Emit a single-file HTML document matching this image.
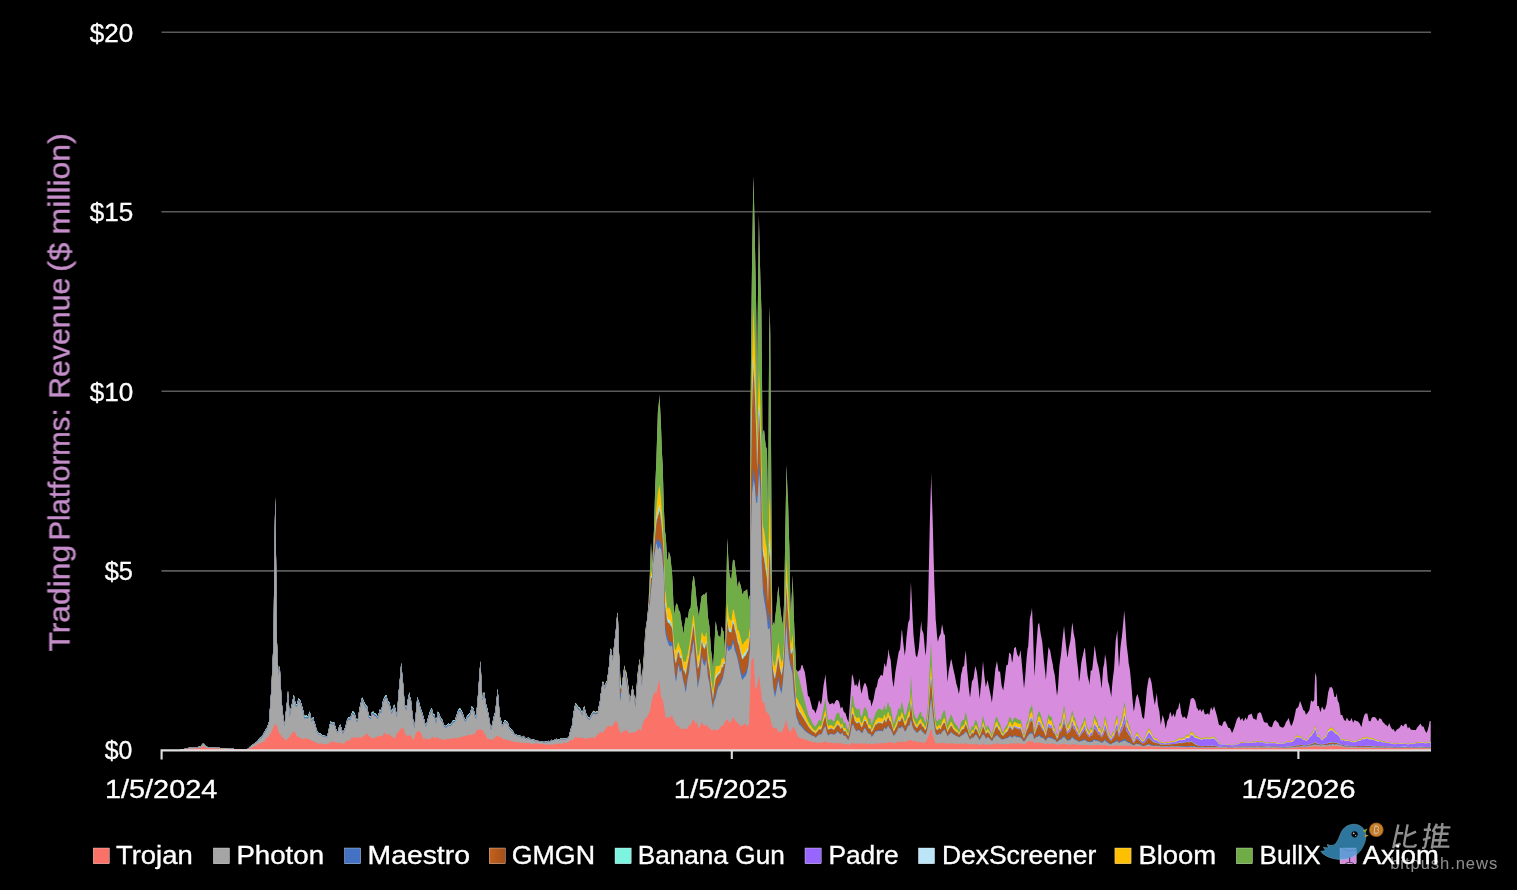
<!DOCTYPE html><html><head><meta charset="utf-8"><title>Trading Platforms Revenue</title><style>html,body{margin:0;padding:0;background:#000;}body{width:1517px;height:890px;overflow:hidden;font-family:"Liberation Sans",sans-serif;}svg{display:block;}</style></head><body><svg width="1517" height="890" viewBox="0 0 1517 890">
<defs><linearGradient id="gm" x1="0" x2="1" y1="0" y2="0"><stop offset="0" stop-color="#C4621F"/><stop offset="1" stop-color="#A6501B"/></linearGradient></defs>
<rect width="1517" height="890" fill="#000"/>
<line x1="161.5" x2="1431" y1="32.3" y2="32.3" stroke="#5a5a5a" stroke-width="1.6"/>
<line x1="161.5" x2="1431" y1="211.8" y2="211.8" stroke="#5a5a5a" stroke-width="1.6"/>
<line x1="161.5" x2="1431" y1="391.3" y2="391.3" stroke="#5a5a5a" stroke-width="1.6"/>
<line x1="161.5" x2="1431" y1="570.9" y2="570.9" stroke="#5a5a5a" stroke-width="1.6"/>
<g><path fill="#D88CDE" d="M161,750.4L161,750.4L180,750L187.6,748L190.7,747.6L192.2,747.7L193.8,747.4L196.9,747.2L198.5,746.8L200.5,746.6L201.6,745L203.4,742.9L204.8,744.8L206.3,746.6L207.9,747.1L215.7,747.4L217.2,747.7L218.8,747.5L220.4,747.9L226.6,747.9L228.2,748.2L232,748.2L234.4,749L236,749.3L243.8,749.3L247,749.2L248.5,748.2L250.1,746.6L253.2,744.2L256.3,742.1L257.9,740.6L259.4,738.1L261,737.6L262.6,735.2L264.1,732.2L264.5,732L265.7,729.6L267.2,727.3L268.8,722.2L269,722L270.4,701.6L271.5,687L271.9,676.8L273.6,640L274.3,560L275,512.9L275.2,497L276.1,560L276.6,608.5L276.9,640L278.2,669L278.4,673L279.8,666L281.3,694.2L282,704.5L282.9,713.2L284.5,725L286,710.2L287.2,700L287.6,695.5L288,690.5L289.1,706L289.7,715L290.7,709L292.2,702.6L293.7,695L294,695.7L295.4,702.7L295.8,704L296.9,704.1L298.5,698.4L299.3,699L300.1,700L301.6,704.5L303.2,710.2L304.5,716.7L304.8,716L306.3,715.4L307.9,716.3L308,716.1L309.8,711.5L311,717.3L311.5,720L313.3,716.7L314.1,721.1L315.7,725.5L316.7,730.6L317.2,730.8L318.8,733.6L320.4,733.1L321.9,735.3L323.5,735.6L323.7,735.8L325.1,735.7L327,736.7L328.2,732.1L329.8,724.2L330.7,721L331.3,722.1L332.9,722.9L334,722L334.4,722.9L336,729L337.6,732L339.1,726.4L340.2,724.5L340.7,725.5L342.9,733L343.8,730.6L345.4,726.7L346.9,720.5L347.2,720L348.5,717L350.1,718L352.4,711.5L353.2,711.6L354.8,713.4L356.3,718.9L357.7,720L359.4,709.1L360.3,704.8L361,702L362,697.5L362.6,698.3L364.1,702.1L365.5,704.5L365.7,705L367.2,706.4L368.8,715.4L370.7,716.7L371.9,712.2L373.3,711.5L373.5,712L374.2,713.1L375.1,713.3L376.6,714.8L377.7,716.7L378.2,715.6L379.8,709.4L381.3,710.7L382.9,701L384.4,697.3L386,695.1L386.4,695L387.6,700.4L389.1,702.1L390.7,707.8L391.6,711.5L392.2,710.5L394.2,704.5L395,707.3L395.4,708.5L396.9,715L398.5,693.7L400.1,676.7L401.2,662.7L401.6,667.5L403.2,684.1L404.7,704.5L406.4,708L407.9,699L409.4,692.3L410,696.7L411,699.8L412.6,715.3L413.5,721.9L414.3,727L415.7,714.9L417.3,696.7L417.8,698.9L418.8,701.1L420.5,708L421.9,711.4L424,718.5L425.7,725.4L426.6,723.3L428.2,717.3L429.8,712.1L431.3,708.7L431.8,708L432.6,711.7L432.9,713.6L434.4,714.4L436.1,722L437.9,711.5L439.1,713.4L440.7,717.9L442.2,719.4L444,725.4L444.8,725.3L445.4,726L446.9,725.2L448.5,723.4L450.1,724.5L451.8,722.8L453.2,720L454.8,720.2L456.3,715.9L457.9,711L459.4,708.4L460.5,708.8L462.6,712.8L464.1,717.5L465.7,720L467.2,715.7L468.8,714.2L470.4,712.2L471.8,706L471.9,706.4L473.5,708.3L474.4,712.3L475.1,714.7L476.2,716.7L476.6,711L478.2,692.4L479.8,669L480.5,661L481.3,677.9L482.3,697.5L482.9,696.9L484,692L484.4,693.6L486,703.9L486.6,705.9L487.6,709.6L489.1,717.6L490.7,727.5L491,728.9L492.2,724.1L493.8,716.4L495.3,711.5L496.9,696.6L497.6,688.8L498.5,698.7L499.7,715L500.1,717.2L501.6,722.3L502.3,725.4L504.8,720.1L505,720L507.5,722.1L507.9,722.6L509.4,727.5L512.6,730.3L514.1,733.6L514.5,734L515.7,734L517.2,735.2L518.8,735.2L520.4,735.7L521.9,737.4L523.5,735.7L525.1,737.7L526.6,738.6L528.2,737.6L529.8,738.7L532.9,739.6L534.4,739.8L536,740.9L537.6,740.2L539.1,741.4L540.7,740.9L544,742L545.4,741.6L546.9,741.8L548.5,740.7L550.1,741.4L551.6,739.8L553.2,740.6L554.8,739.4L556.3,738.8L559.4,739.8L561,738L562.6,738.7L564.1,738.4L565.7,738.8L567.2,738L568.5,737.6L568.8,736.7L570.4,729.7L572,725.4L573.5,712.6L575.1,704.6L575.4,702.7L576.6,704.2L578.2,706.8L579.8,707.7L582.4,713L582.9,710.2L584.2,706L586,712.9L587.6,716.4L589.1,717.3L589.4,718.4L590.7,715.3L592.9,711.5L593.8,710.7L595.4,711.9L596.9,711.2L598,711.5L598.5,707.7L600,700.3L600.7,694L601.6,689.3L602.4,681.8L603.2,681.5L604.8,686.7L606.3,680.8L606.8,681.8L607.9,674.4L609.4,662.7L610.3,648.8L611,648.5L612.6,657.4L612.9,657.5L614.1,645.1L615.7,631.5L617,616.1L617.2,614.7L617.8,612.2L618.8,646.1L619,652L620,669.9L620.4,676L620.7,681.2L621.6,688.9L621.9,685.5L624.4,665L625.1,669.4L626,671.5L626.5,672L626.6,673L628.2,684.8L629.8,699.2L629.9,700L631.3,693.8L632.5,685L632.9,688L634.4,696.1L635.3,702L636,694.7L637.6,673.3L639.1,663L639.7,658.5L640,661.3L641.6,678.4L641.9,682L642.2,676.8L643.8,655.7L645.2,632L645.4,629.2L646.8,622.4L648.5,603.8L650,570L651,542L651.6,553.4L652,565L653.2,545.9L654,529L654.8,501.6L655.2,486.7L656.3,461.9L657,439.6L657.9,411.5L659.4,397.8L659.5,394L661,426.5L662,453.4L662.6,463.6L662.7,465L663.8,506.4L664.1,513L664.8,529L665,531.3L665.7,535.5L666,540.2L667,557L667.2,558.8L668,561L668.8,551.5L670,555L670.4,556.7L671.5,567.7L671.9,571.3L672,572L672.5,581.9L673.5,605L674.7,614.7L675.1,610.8L675.8,605.2L676.6,603.3L678,606L678.2,608.1L679,611.9L679.8,610.4L681.3,621L682.9,630.1L683.5,634.5L684.4,626L685.7,618L686,617.1L687.6,618.8L688,617L689.1,609.8L690.7,607.8L691,603.3L692.2,584.3L693.4,576.3L693.8,576.1L694,576.4L695.4,587.7L696.9,604.3L697.7,608.9L698.5,614.5L698.8,617L701.6,596.1L702,596L703.2,594.4L704.8,594.7L706.3,592.1L706.5,593L707.9,616.8L709.4,626.3L709.8,632L711,649.9L712,657.2L712.6,663.9L713,669.5L714.1,650.6L715.7,621L717.2,630.6L717.4,631.3L718.5,637L718.8,635.5L720.4,637.9L721.8,625.7L721.9,626.7L723,631.3L723.5,630.9L725,652L725.1,647.3L726.6,572.4L727.3,538L728.2,556.5L729,571L729.5,573.8L729.8,576.5L731.3,580.1L732.9,560.5L733,561L733.9,559.6L734.4,560.5L736,573.1L737.6,587.9L739.1,580.5L739.3,582L740.7,585.5L742.2,593.5L743,595L743.7,592L743.8,591.3L745.4,590.8L746.9,589.5L747,588.5L748,597.8L748.5,601.4L749,595.7L750,596.1L750.1,597L750.3,440L750.6,402.8L751,355.5L751.5,310L751.6,301.4L752,266.1L753.2,188.6L753.3,184.8L753.5,176.5L754.8,236.5L755.3,261.6L756,299L756.2,310L756.3,318.4L756.5,335.6L757.1,391L757.6,333.5L757.8,310L758.5,252.4L758.6,243.2L758.9,214.5L759.4,240.7L760.5,283.7L761,297.4L761.4,310L761.7,344.1L762,376.8L762.5,440L762.6,438L763,431.8L764,430L764.5,433.9L765.7,445.9L767,450L767.4,477L768,520L768.5,440L768.8,393.8L769.2,335L769.8,306.5L770,321.5L770.3,335L770.4,352L771,440L771.5,520L771.9,574.1L772.3,626L773,624.4L773.5,622L774.5,625L775.1,618.1L776.6,605.6L778.2,587.2L778.4,586L779.8,603.4L780.5,610L781.3,616.4L782.9,625.2L783,626L784.2,600L784.5,581.6L785.2,540L786,493.6L786.5,465L787.6,494.2L788,500L789,537.6L789.4,548L790.3,600L790.7,609.2L790.9,612L792.2,587.2L792.6,575L793.8,612.9L794,620L795.4,652.7L796,669.6L796.9,670.2L798,672L798.5,670.9L799,670.3L800.1,670.6L801.6,665.1L802.5,665L803.2,667.8L804.8,672L806.3,682.3L807.9,695.5L808,696L809.4,697L812,707.2L812.6,709.4L814.1,710L815.6,713.4L815.7,712.9L816.7,709.3L817.2,708.5L819,700L821,704.7L821.9,700.3L823.3,687.7L823.5,685.5L825.1,676.9L825.5,674L826.6,688.1L827.7,700L828.2,701.4L829.8,704.5L831.3,703.4L832.9,703.1L834,704.7L834.4,703.2L836,700.4L836.4,700.1L837.6,700L839.1,701.8L840.7,708.4L842.2,706.5L843,709L843.8,711.9L845.4,713L846.9,718.1L847.4,719.5L848.5,722L850.1,700.6L851.6,680.2L852,674L853.2,676.9L854,681.7L854.8,685.9L856.3,684.1L857.3,687L857.9,685.5L859.5,678.4L860.5,688.3L861,691.2L861.6,693.7L862.7,688.4L864.1,684.1L865,682.7L865.7,684.1L867.2,687.8L868.8,699.2L870.4,700.5L871.5,706.8L871.9,704.8L873.5,699.8L875.1,691.1L876,687L876.6,687.7L878.2,679.4L879.8,676.9L880.3,675.8L881.3,674.7L882.5,676L882.9,675.2L884.4,663L886,667.5L887.6,657.8L888.6,648.8L889.1,653.4L890,657.8L890.7,660L892.2,678.5L893.4,686.5L893.5,687L893.8,686L895.4,671.8L898.7,652L900.1,649.2L900.4,645.7L901.6,631L902,629.6L903.2,642.4L904.8,655.7L905.7,648.1L906.3,639.6L907.9,625L908.3,622.6L909.4,619.8L909.6,620L909.8,613.4L910.9,582L911,583.4L912.6,617.5L912.7,620L913.5,635L914.1,640.8L915.7,655.3L916,655.7L917,657.5L917.2,656.7L918.8,648.2L920.4,629.7L921.3,621L921.9,629.6L923.5,633.5L925,650.6L925.1,651.5L925.7,655.7L926.6,643L927.6,620L928.2,597.4L929.2,552.3L929.8,523.7L931,482.7L931.2,472.6L931.3,477.3L932.9,528.3L933.5,552.9L934.4,586L935,599.2L935.3,607.4L935.7,620L936,622.4L937,635.4L937.6,640.3L937.9,641.8L939.1,636.9L940.7,633.7L942,624.6L942.2,624.4L943.8,633.9L944.9,635L945.4,646.2L946.9,670.3L947.5,681.9L948.5,672.1L950.1,664.1L951,659L951.6,660.3L953.2,668.5L954.8,675.4L956.3,683.5L957.9,688.9L958.8,694L959.4,691L959.7,688.9L960,686.2L961,675L962.3,669.7L962.6,667.2L964.1,665.7L965,656.1L965.7,651L965.8,650.5L967.2,670.3L968.8,687.9L970,697.5L970.4,694.8L971.9,681.4L973.5,678.8L975.1,666.9L975.3,666L976.6,670.8L977,673L978.2,683.5L979.7,699L979.8,697.7L980.6,688.3L981.3,682.7L982.9,662.4L983,661L984.4,676.3L985.8,687L986,686.4L987.5,680L987.6,680.3L991,697.2L991.9,702.8L992.2,699.7L993.8,685.3L994.5,678.1L995.4,668.5L996.9,661.6L997,661L998.5,671.6L1000,671.4L1000.1,671.8L1001.6,685.4L1003.2,690.6L1004.8,678.8L1006.3,665.4L1007.9,664.5L1009.3,652L1009.4,652.7L1011,654.4L1012,662.7L1012.6,660.7L1014.1,648.3L1015.7,646.8L1017.2,654.4L1018.8,656.7L1018.9,657.5L1020.4,650.3L1020.6,650.5L1021.9,664.4L1023.5,682.6L1024,688.8L1025.1,678L1026.6,658.2L1027.6,648.8L1028.2,646.5L1029.3,629.2L1029.8,618.9L1031.3,612.4L1032,607.8L1032.9,628.3L1034,663.6L1034.4,674.2L1034.5,676.6L1036,650.2L1038,624.4L1039,623L1039.1,622.6L1040.7,633.9L1042.2,641.7L1042.4,643.5L1043.8,659.8L1045.4,674.1L1045.9,680L1046.7,668L1046.9,664.8L1048.5,647L1050,650.3L1050.1,650.2L1051.6,659L1052.8,664.4L1053.2,667.9L1054.8,675.3L1056.3,689.5L1057,695.8L1057.9,689.5L1059.4,666L1061,654.7L1062.6,638.6L1064,626L1064.1,626.4L1065.7,643.1L1067.2,656L1067.6,657.5L1068.8,648.4L1070.4,640.8L1071.9,625.9L1072.5,622.6L1073.5,632.5L1075.1,640.1L1075.5,645.3L1076.6,657.4L1078.2,670.6L1079,681.9L1079.8,677.2L1081.3,663L1081.6,661L1082.9,655.3L1084.4,648.1L1085,648.8L1086,660.7L1087.6,675.5L1089.1,682.1L1089.4,685.3L1090.3,675.4L1090.7,670.7L1092.2,670.1L1093.8,655.1L1094.6,645.3L1095.4,650.4L1096.9,660.9L1098.5,667.2L1099,669.9L1100.1,676.2L1101.6,688.8L1103.2,668L1104.2,663.4L1104.8,656.9L1105,654L1106.3,660.8L1107.9,680.7L1109.4,686.3L1111,695.6L1111.2,697.5L1112,687.3L1112.6,680.6L1114.1,668.8L1115.7,640.5L1117.2,630.8L1117.3,629.6L1118,647.2L1118.8,664.2L1119,668L1120.4,648.3L1121,643.1L1121.9,636.7L1123.5,620.1L1124,613L1124.2,610.4L1125.1,620.4L1126.6,644.5L1128.2,657.4L1128.6,662.7L1129.8,669.3L1130,670.8L1131.3,684.6L1132.9,703.7L1133.8,711.5L1134.4,708.2L1136,697.7L1137.3,694L1137.6,694.6L1139.1,700.3L1140,705L1140.7,707.5L1142.2,717.1L1144,719L1145.4,705.7L1146.9,689L1148.5,679.2L1149,677.6L1150.1,677.6L1151.6,683.1L1153.2,695.4L1154.8,705L1156.3,696.2L1156.8,693L1157.9,704.7L1159.4,711.8L1160,717.6L1160.8,725L1161,723.8L1162.6,715.3L1162.7,715L1164.1,719.7L1165.7,729L1167.2,721.3L1168.8,718.2L1169.7,713L1170,712.8L1170.4,711.7L1171.9,717.3L1173.5,713.6L1174.6,717L1175.1,716.7L1176.6,709.9L1178.2,708.6L1179.5,702L1180,704.7L1181.3,713.7L1182.5,717L1182.9,717.7L1184.4,716.4L1186,718.5L1186.5,719L1187.6,715.3L1188,713.4L1189.1,707.7L1190.7,698.9L1192.4,698L1193.8,698.3L1195.4,701.3L1196.9,708.4L1197.3,708L1198.5,711L1200.1,709.1L1201.6,712.1L1203.2,708.7L1204.8,714.3L1206.3,714.3L1207.9,713.2L1209.2,715L1209.4,714.3L1211,707L1212.6,710.6L1214,706L1215.7,711.4L1217.2,717L1218.8,724.3L1219,725L1220.4,725.2L1221.9,726.3L1223.5,721.7L1225.1,721L1226.6,723.8L1228.2,727.7L1229.8,728.1L1231.3,730.9L1232,733L1232.9,731.2L1234.4,727.3L1236,721.9L1237,719L1239.1,716.2L1240.7,720.6L1242.2,717.7L1243,719.9L1243.8,721.2L1244.8,719L1245.4,717.4L1246.9,719.9L1248.5,714.8L1248.8,715L1251.6,713.6L1253.2,718.6L1254.7,719L1254.8,718.9L1256.3,720.3L1257.9,712.8L1259,713.5L1259.4,712.6L1259.6,712L1261,712.9L1262.6,717.7L1263.6,721L1264.1,722L1265.7,722.7L1267.2,722.6L1268.8,726L1270.5,727L1271.9,727.3L1273.5,722.4L1275.1,720.1L1276.4,721L1276.6,721.5L1278,722.6L1278.2,722.6L1279.8,726.5L1282.9,727.7L1284.4,726.3L1286,721.9L1287.6,719.9L1288.3,718L1289.1,719.4L1290,722.9L1290.7,725.1L1291.3,726L1292.2,724.6L1293.8,719.7L1295.4,712.3L1296,709L1298,707.3L1298.5,706.5L1300,701L1300.1,701.1L1301.6,705.1L1303.2,710.1L1304.8,711.1L1306,715L1306.3,714.2L1307.9,712.5L1309.4,710.1L1311,700.4L1312,701L1312.6,701.9L1314.2,700L1315,677L1315.7,672.3L1316.5,678L1317,697.5L1317.2,706L1318.8,706L1320.4,712.2L1321.9,706.7L1322,706.6L1324,710L1325.1,708.9L1326.6,704.2L1328.2,692.2L1329.8,687.1L1330.8,687.5L1331.3,686.7L1332.9,689.3L1334.4,697.1L1335,697.1L1336,696.7L1336.8,693L1337.6,700.5L1339.1,703.5L1340.7,715L1342.2,714.9L1343.8,719.2L1345.4,721.3L1346.9,717.5L1348.5,720.4L1349.6,721L1350.1,720.9L1351.6,718L1353.2,723.1L1353.6,721.7L1354.6,720L1356.3,721L1357.9,721.5L1359.4,723.1L1361,726.2L1361.5,727L1362.6,720.9L1364.1,715.8L1365.4,713L1365.7,714.2L1367.2,713.1L1368.8,721.1L1369.4,721L1370.4,721.6L1371.9,717.4L1373.5,717.1L1375.1,717.3L1376.6,719.1L1377.3,720.4L1378.2,720.9L1379.3,718L1379.8,718.5L1381.3,719.1L1382.9,722.2L1384.4,723.3L1385.2,725L1386,724.6L1387.6,726.7L1389.2,723L1390.7,727L1392.2,729.4L1393.8,729.2L1395,732L1395.4,731.4L1396.9,729.6L1398.5,728.8L1400.1,727.1L1401,725L1401.6,725.1L1403.2,726.6L1404.8,724.1L1406.3,723.5L1407,726.1L1407.9,728.5L1409,727L1409.4,727.3L1411,729.7L1413.9,730L1414.1,729.7L1415.7,730.3L1417.2,727.6L1420.4,723.7L1420.8,724L1421.9,726.4L1423.5,726.4L1425.1,730.8L1426.7,733L1428.2,728.5L1428.7,726.2L1429.7,721L1430.7,721L1430.7,750.4Z"/><path fill="#70AD47" d="M161,750.4L161,750.4L180,750L187.6,748L190.7,747.6L192.2,747.7L193.8,747.4L196.9,747.2L198.5,746.8L200.5,746.6L201.6,745L203.4,742.9L204.8,744.8L206.3,746.6L207.9,747.1L215.7,747.4L217.2,747.7L218.8,747.5L220.4,747.9L226.6,747.9L228.2,748.2L232,748.2L234.4,749L236,749.3L243.8,749.3L247,749.2L248.5,748.2L250.1,746.6L253.2,744.2L256.3,742.1L257.9,740.6L259.4,738.1L261,737.6L262.6,735.2L264.1,732.2L264.5,732L265.7,729.6L267.2,727.3L268.8,722.2L269,722L270.4,701.6L271.5,687L271.9,676.8L273.6,640L274.3,560L275,512.9L275.2,497L276.1,560L276.6,608.5L276.9,640L278.2,669L278.4,673L279.8,666L281.3,694.2L282,704.5L282.9,713.2L284.5,725L286,710.2L287.2,700L287.6,695.5L288,690.5L289.1,706L289.7,715L290.7,709L292.2,702.6L293.7,695L294,695.7L295.4,702.7L295.8,704L296.9,704.1L298.5,698.4L299.3,699L300.1,700L301.6,704.5L303.2,710.2L304.5,716.7L304.8,716L306.3,715.4L307.9,716.3L308,716.1L309.8,711.5L311,717.3L311.5,720L313.3,716.7L314.1,721.1L315.7,725.5L316.7,730.6L317.2,730.8L318.8,733.6L320.4,733.1L321.9,735.3L323.5,735.6L323.7,735.8L325.1,735.7L327,736.7L328.2,732.1L329.8,724.2L330.7,721L331.3,722.1L332.9,722.9L334,722L334.4,722.9L336,729L337.6,732L339.1,726.4L340.2,724.5L340.7,725.5L342.9,733L343.8,730.6L345.4,726.7L346.9,720.5L347.2,720L348.5,717L350.1,718L352.4,711.5L353.2,711.6L354.8,713.4L356.3,718.9L357.7,720L359.4,709.1L360.3,704.8L361,702L362,697.5L362.6,698.3L364.1,702.1L365.5,704.5L365.7,705L367.2,706.4L368.8,715.4L370.7,716.7L371.9,712.2L373.3,711.5L373.5,712L374.2,713.1L375.1,713.3L376.6,714.8L377.7,716.7L378.2,715.6L379.8,709.4L381.3,710.7L382.9,701L384.4,697.3L386,695.1L386.4,695L387.6,700.4L389.1,702.1L390.7,707.8L391.6,711.5L392.2,710.5L394.2,704.5L395,707.3L395.4,708.5L396.9,715L398.5,693.7L400.1,676.7L401.2,662.7L401.6,667.5L403.2,684.1L404.7,704.5L406.4,708L407.9,699L409.4,692.3L410,696.7L411,699.8L412.6,715.3L413.5,721.9L414.3,727L415.7,714.9L417.3,696.7L417.8,698.9L418.8,701.1L420.5,708L421.9,711.4L424,718.5L425.7,725.4L426.6,723.3L428.2,717.3L429.8,712.1L431.3,708.7L431.8,708L432.6,711.7L432.9,713.6L434.4,714.4L436.1,722L437.9,711.5L439.1,713.4L440.7,717.9L442.2,719.4L444,725.4L444.8,725.3L445.4,726L446.9,725.2L448.5,723.4L450.1,724.5L451.8,722.8L453.2,720L454.8,720.2L456.3,715.9L457.9,711L459.4,708.4L460.5,708.8L462.6,712.8L464.1,717.5L465.7,720L467.2,715.7L468.8,714.2L470.4,712.2L471.8,706L471.9,706.4L473.5,708.3L474.4,712.3L475.1,714.7L476.2,716.7L476.6,711L478.2,692.4L479.8,669L480.5,661L481.3,677.9L482.3,697.5L482.9,696.9L484,692L484.4,693.6L486,703.9L486.6,705.9L487.6,709.6L489.1,717.6L490.7,727.5L491,728.9L492.2,724.1L493.8,716.4L495.3,711.5L496.9,696.6L497.6,688.8L498.5,698.7L499.7,715L500.1,717.2L501.6,722.3L502.3,725.4L504.8,720.1L505,720L507.5,722.1L507.9,722.6L509.4,727.5L512.6,730.3L514.1,733.6L514.5,734L515.7,734L517.2,735.2L518.8,735.2L520.4,735.7L521.9,737.4L523.5,735.7L525.1,737.7L526.6,738.6L528.2,737.6L529.8,738.7L532.9,739.6L534.4,739.8L536,740.9L537.6,740.2L539.1,741.4L540.7,740.9L544,742L545.4,741.6L546.9,741.8L548.5,740.7L550.1,741.4L551.6,739.8L553.2,740.6L554.8,739.4L556.3,738.8L559.4,739.8L561,738L562.6,738.7L564.1,738.4L565.7,738.8L567.2,738L568.5,737.6L568.8,736.7L570.4,729.7L572,725.4L573.5,712.6L575.1,704.6L575.4,702.7L576.6,704.2L578.2,706.8L579.8,707.7L582.4,713L582.9,710.2L584.2,706L586,712.9L587.6,716.4L589.1,717.3L589.4,718.4L590.7,715.3L592.9,711.5L593.8,710.7L595.4,711.9L596.9,711.2L598,711.5L598.5,707.7L600,700.3L600.7,694L601.6,689.3L602.4,681.8L603.2,681.5L604.8,686.7L606.3,680.8L606.8,681.8L607.9,674.4L609.4,662.7L610.3,648.8L611,648.5L612.6,657.4L612.9,657.5L614.1,645.1L615.7,631.5L617,616.1L617.2,614.7L617.8,612.2L618.8,646.1L619,652L620,669.9L620.4,676L620.7,681.2L621.6,688.9L621.9,685.5L624.4,665L625.1,669.4L626,671.5L626.5,672L626.6,673L628.2,684.8L629.8,699.2L629.9,700L631.3,693.8L632.5,685L632.9,688L634.4,696.1L635.3,702L636,694.7L637.6,673.3L639.1,663L639.7,658.5L640,661.3L641.6,678.4L641.9,682L642.2,676.8L643.8,655.7L645.2,632L645.4,629.2L646.8,622.4L648.5,603.8L650,570L651,542L651.6,553.4L652,565L653.2,545.9L654,529L654.8,501.6L655.2,486.7L656.3,461.9L657,439.6L657.9,411.5L659.4,397.8L659.5,394L661,426.5L662,453.4L662.6,463.6L662.7,465L663.8,506.4L664.1,513L664.8,529L665,531.3L665.7,535.5L666,540.2L667,557L667.2,558.8L668,561L668.8,551.5L670,555L670.4,556.7L671.5,567.7L671.9,571.3L672,572L672.5,581.9L673.5,605L674.7,614.7L675.1,610.8L675.8,605.2L676.6,603.3L678,606L678.2,608.1L679,611.9L679.8,610.4L681.3,621L682.9,630.1L683.5,634.5L684.4,626L685.7,618L686,617.1L687.6,618.8L688,617L689.1,609.8L690.7,607.8L691,603.3L692.2,584.3L693.4,576.3L693.8,576.1L694,576.4L695.4,587.7L696.9,604.3L697.7,608.9L698.5,614.5L698.8,617L701.6,596.1L702,596L703.2,594.4L704.8,594.7L706.3,592.1L706.5,593L707.9,616.8L709.4,626.3L709.8,632L711,649.9L712,657.2L712.6,663.9L713,669.5L714.1,650.6L715.7,621L717.2,630.6L717.4,631.3L718.5,637L718.8,635.5L720.4,637.9L721.8,625.7L721.9,626.7L723,631.3L723.5,630.9L725,652L725.1,647.3L726.6,572.4L727.3,538L728.2,556.5L729,571L729.5,573.8L729.8,576.5L731.3,580.1L732.9,560.5L733,561L733.9,559.6L734.4,560.5L736,573.1L737.6,587.9L739.1,580.5L739.3,582L740.7,585.5L742.2,593.5L743,595L743.7,592L743.8,591.3L745.4,590.8L746.9,589.5L747,588.5L748,597.8L748.5,601.4L749,595.7L750,596.1L750.1,597L750.3,440L750.6,402.8L751,355.5L751.5,310L751.6,301.4L752,266.1L753.2,188.6L753.3,184.8L753.5,176.5L754.8,236.5L755.3,261.6L756,299L756.2,310L756.3,318.4L756.5,335.6L757.1,391L757.6,333.5L757.8,310L758.5,252.4L758.6,243.2L758.9,214.5L759.4,240.7L760.5,283.7L761,297.4L761.4,310L761.7,344.1L762,376.8L762.5,440L762.6,438L763,431.8L764,430L764.5,433.9L765.7,445.9L767,450L767.4,477L768,520L768.5,440L768.8,393.8L769.2,335L769.8,306.5L770,321.5L770.3,335L770.4,352L771,440L771.5,520L771.9,574.1L772.3,626L773,624.4L773.5,622L774.5,625L775.1,618.1L776.6,605.6L778.2,587.2L778.4,586L779.8,603.4L780.5,610L781.3,616.4L782.9,625.2L783,626L784.2,600L784.5,581.6L785.2,540L786,493.6L786.5,465L787.6,494.2L788,500L789,537.6L789.4,548L790.3,600L790.7,609.2L790.9,612L792.2,587.2L792.6,575L793.8,612.9L794,620L795.4,652.7L796,669.6L798,674L800.1,682.2L803.2,695L806.3,707L808,713.2L809.4,716.9L811,719.5L812.6,723.4L814.1,725.3L815.6,726.7L816.7,724.2L817.2,723.4L818.8,720.4L819,719.8L820.4,720.7L821,720.7L821.9,716.6L823.3,709.2L823.5,707.9L825.1,700L825.5,698.4L826.6,709.5L827.7,718.6L828.2,719.9L831.3,718.9L832.9,720.7L834,721.5L834.4,720.5L836,714.6L837.6,712.9L839.1,712.6L840.7,719L842.2,716.5L843.8,723L845.4,722.3L846.9,727.5L847.4,728.5L848.5,729.8L850,717L851.6,700.2L852,695.1L853.2,696.9L854,702.4L854.8,707L856.3,708.2L857.3,710.1L857.9,709L859.4,708.6L859.5,708.4L860.5,714.5L861,715.9L861.6,717.1L862.6,713.8L864.1,707.8L865,707L867.2,710.4L868.8,719.1L870.4,718.1L871.5,724.3L871.9,724.1L873.5,718.8L875.1,714.4L876,711.5L876.6,711.7L878.2,708.4L879.8,709.1L881.3,709.4L882.5,710.3L882.9,709.8L884.4,705L886,710.7L887.6,703.1L888.6,702.4L889.1,706.4L890,707.3L890.7,707.5L892.2,715.9L893.5,723.7L893.8,724.3L895.4,718.3L896.9,714.5L898.5,708.1L898.7,707.9L900.1,709.7L900.4,708.5L901.6,702.4L902,702.3L903.2,707.5L904.8,715.8L905.7,714.5L906.3,712.7L907.9,705.4L908.3,704.1L909.4,701.2L909.6,701.3L909.8,699.8L910.9,677.7L911,675L912.6,705.1L913.5,711.3L914.1,713.4L915.7,718.2L917,719.3L917.2,718.9L918.8,714.4L920.4,711.7L921.3,712.2L921.9,716.2L923.5,716.8L925,722.1L925.7,722.2L926.6,717.6L927.6,708.4L928.2,699.2L929.8,664.9L931,641L931.3,649.3L932.9,684.6L934.4,705.4L935.3,714.8L935.7,718.3L936,719.4L937,721.1L937.6,720.9L937.9,721L939.1,718.3L940.7,720.3L942,714.6L943.8,710.3L944.9,710.6L945.4,714L946.9,721.6L947.5,725L948.5,720.9L950.1,716.6L951,714.6L951.6,715.1L953.2,719.4L954.8,723.3L956.3,724.7L957.9,727L958.8,729.7L959.4,729.1L959.7,728.2L960,726.9L961,721.9L962.3,720.6L962.6,719.7L964.1,719.9L965,715.2L965.8,711.7L967.2,719.1L968.8,727.8L970,731.6L970.4,730.9L971.9,725.8L973.5,727L975.1,720.5L975.3,719.8L976.6,720.7L977,721.9L978.2,726.1L979.7,731.8L979.8,731.2L980.6,727.7L981.3,725.6L982.9,716.3L983,715.5L984.4,721.4L985.8,727.8L986,727.9L987.5,725.2L987.6,725.2L989.1,727.7L991.9,734.6L992.2,733.6L994.5,723.3L995.4,718.5L996.9,716.7L997,716.4L998.5,721.7L1000,723.6L1001.6,729.4L1003.2,732.4L1004.8,727.9L1006.3,726.2L1007.9,723.3L1009.3,717L1009.4,717.3L1011,717.9L1012,722L1012.6,721.4L1014.1,717.6L1015.4,718L1015.7,717.7L1017.2,719.2L1018.8,719.8L1018.9,720.3L1020.4,719.3L1020.6,719.5L1021.9,725L1023.5,733.7L1024,735L1025.1,730.7L1026.6,723.5L1027.6,720.5L1028.2,719.7L1029.3,712.5L1029.8,708.4L1031.3,706.9L1032,704L1032.9,712.3L1034,726.4L1034.5,730.5L1037.6,715L1038,712.8L1039.1,711L1040.7,714.5L1042.2,720.1L1042.4,720.4L1043.8,723.9L1045.4,730L1045.9,730.9L1046.7,724.2L1046.9,722.1L1048.5,713.7L1050,717.1L1051.6,716.4L1052.8,721.9L1053.2,724.3L1054.8,727L1056.3,733L1057,735.3L1057.9,733.7L1059.4,723.5L1061,722.4L1062.6,715.1L1064,704.9L1064.1,704.9L1065.7,715.9L1067.2,725.1L1067.6,726L1068.8,723.1L1070.4,719.5L1071.9,711.4L1072.5,710.8L1073.5,716.6L1075.1,718.3L1075.5,720.3L1076.6,724.8L1078.2,727.6L1079,731.9L1079.8,730.6L1081.3,725.7L1081.6,725.1L1082.9,723.1L1084.4,717.3L1085,717.3L1086,723.2L1087.6,728.5L1089.1,730.9L1089.4,732.2L1090.3,728.7L1090.7,726.8L1092.2,728L1093.8,718.2L1094.6,714.3L1095.4,717L1096.9,720.1L1097.2,721L1098.5,726.1L1099,726.1L1100.1,726.6L1101.6,731.7L1103.2,725.9L1104.2,721.7L1105,715.5L1106.3,720.3L1107.9,728.8L1109.4,733.8L1111,736L1111.2,736.8L1112,734.3L1112.6,732.8L1114.1,730.4L1115.7,719L1117.3,714.6L1118,722.4L1118.8,728.5L1119,729.7L1120.4,722.3L1121,719.8L1121.9,718L1123.5,708.5L1124,703.5L1124.2,701.8L1125.1,705.4L1126.6,719.4L1128.2,722.1L1128.6,724.5L1130,727.9L1131.3,731.8L1132.9,738.2L1133.8,739.9L1134.4,738.4L1136,733.3L1137.3,732.3L1137.6,732.6L1139.1,735.4L1140,736.7L1140.7,737.5L1142.2,739.7L1144,739.1L1145.4,736.1L1146.9,732.4L1148.5,728.8L1149,728.3L1150.1,729.8L1151.6,732.9L1153,736.1L1154.8,738.2L1156.8,738.4L1157.9,739.7L1160.8,742.1L1162.7,742L1164.1,742.1L1165.7,742.8L1167.2,742L1168.8,742.1L1170.4,741.4L1173.5,741.1L1175.1,740.5L1176.6,739.5L1178.2,738.9L1179.5,737.6L1179.8,737.5L1181.3,738.6L1182.9,737.4L1184.4,738L1186,735.1L1187.6,734.7L1189.1,735.8L1190.7,731.7L1192.4,731.9L1195.4,735.9L1197.3,736.1L1200.1,737.9L1201.6,738.6L1203.3,737.7L1204.8,737.1L1206.3,738L1207.9,736.8L1209.4,738L1211,737L1212.6,737L1214,736.6L1217.2,740.2L1218.8,743.3L1219,743.5L1221.9,743.9L1226.6,743.9L1228.2,744.4L1229.8,744.5L1232,745.2L1234.4,744.6L1236,743.9L1239.1,743.3L1240.7,742.3L1243.8,742.2L1245.4,741.7L1248.8,742L1250.1,741.7L1251.6,742.2L1253.2,741.2L1254.8,742.3L1256.3,741.1L1257.9,741.1L1259.6,741.5L1261,741.2L1262.6,741.3L1264.1,742.2L1265.7,742.7L1267.2,742.6L1268.8,742.8L1271.9,742.4L1273.5,742.4L1275.1,742.2L1276.6,743.3L1278.2,743.3L1279.8,742.9L1281.4,742.7L1282.9,742.9L1284.4,742.7L1286,742L1287.6,741L1289.1,741.7L1290,741.5L1290.7,740.9L1292.2,740.9L1293.8,739.4L1295.4,736.7L1296.9,735.5L1298,735.5L1298.5,736L1300.1,735.9L1301.6,737.3L1303.2,738.5L1304.8,738.9L1306,739.9L1307.9,738.7L1309.4,735.8L1311,734.4L1312,733.3L1312.6,731.5L1314.1,729.7L1314.2,729.5L1315,725.6L1315.7,727.3L1316.5,730.8L1317,733.8L1317.2,734.7L1318.8,735.1L1320.4,737.2L1322,739.9L1323.5,737.5L1325.1,736.3L1326.6,734.5L1328.2,729.2L1329.8,728.6L1331,727.1L1332.9,728.4L1336,731.8L1336.8,731.9L1339.1,734.7L1340.7,738.9L1341,739.3L1342.2,739.4L1343.8,738.8L1345.4,740L1346.9,739.5L1351.6,740.7L1353.2,741.6L1353.6,741.6L1354.8,740.9L1356.3,741.1L1357.9,739.4L1359.4,739.5L1361,739.1L1361.5,738.7L1362.6,737.2L1364.1,737.8L1365.4,737.4L1365.7,737.5L1367.2,736.5L1368.8,738L1370.4,737.5L1371.9,738.3L1373.5,738.3L1375.1,739.5L1376.6,739.6L1378.2,740.9L1379.3,740L1379.8,739.9L1381.3,741L1382.9,741.5L1384.4,741.3L1386,742.2L1387.6,742.1L1390.7,742.9L1392.2,743L1393.8,743.6L1395.4,743.5L1396.9,742.8L1398.5,743.4L1400.1,742.9L1403.2,743.3L1404.8,742.9L1407.9,743.9L1411,743.1L1412.6,743.5L1415.7,742.5L1417.2,742.2L1418.8,742.4L1423.5,741.9L1425.1,742.6L1428.7,741.7L1430.7,741.7L1430.7,750.4Z"/><path fill="#FFC000" d="M161,750.4L161,750.4L180,750L187.6,748L190.7,747.6L192.2,747.7L193.8,747.4L196.9,747.2L198.5,746.8L200.5,746.6L201.6,745L203.4,742.9L204.8,744.8L206.3,746.6L207.9,747.1L215.7,747.4L217.2,747.7L218.8,747.5L220.4,747.9L226.6,747.9L228.2,748.2L232,748.2L234.4,749L236,749.3L243.8,749.3L247,749.2L248.5,748.2L250.1,746.6L253.2,744.2L256.3,742.1L257.9,740.6L259.4,738.1L261,737.6L262.6,735.2L264.1,732.2L264.5,732L265.7,729.6L267.2,727.3L268.8,722.2L269,722L270.4,701.6L271.5,687L271.9,676.8L273.6,640L274.3,560L275,512.9L275.2,497L276.1,560L276.6,608.5L276.9,640L278.2,669L278.4,673L279.8,666L281.3,694.2L282,704.5L282.9,713.2L284.5,725L286,710.2L287.2,700L287.6,695.5L288,690.5L289.1,706L289.7,715L290.7,709L292.2,702.6L293.7,695L294,695.7L295.4,702.7L295.8,704L296.9,704.1L298.5,698.4L299.3,699L300.1,700L301.6,704.5L303.2,710.2L304.5,716.7L304.8,716L306.3,715.4L307.9,716.3L308,716.1L309.8,711.5L311,717.3L311.5,720L313.3,716.7L314.1,721.1L315.7,725.5L316.7,730.6L317.2,730.8L318.8,733.6L320.4,733.1L321.9,735.3L323.5,735.6L323.7,735.8L325.1,735.7L327,736.7L328.2,732.1L329.8,724.2L330.7,721L331.3,722.1L332.9,722.9L334,722L334.4,722.9L336,729L337.6,732L339.1,726.4L340.2,724.5L340.7,725.5L342.9,733L343.8,730.6L345.4,726.7L346.9,720.5L347.2,720L348.5,717L350.1,718L352.4,711.5L353.2,711.6L354.8,713.4L356.3,718.9L357.7,720L359.4,709.1L360.3,704.8L361,702L362,697.5L362.6,698.3L364.1,702.1L365.5,704.5L365.7,705L367.2,706.4L368.8,715.4L370.7,716.7L371.9,712.2L373.3,711.5L373.5,712L374.2,713.1L375.1,713.3L376.6,714.8L377.7,716.7L378.2,715.6L379.8,709.4L381.3,710.7L382.9,701L384.4,697.3L386,695.1L386.4,695L387.6,700.4L389.1,702.1L390.7,707.8L391.6,711.5L392.2,710.5L394.2,704.5L395,707.3L395.4,708.5L396.9,715L398.5,693.7L400.1,676.7L401.2,662.7L401.6,667.5L403.2,684.1L404.7,704.5L406.4,708L407.9,699L409.4,692.3L410,696.7L411,699.8L412.6,715.3L413.5,721.9L414.3,727L415.7,714.9L417.3,696.7L417.8,698.9L418.8,701.1L420.5,708L421.9,711.4L424,718.5L425.7,725.4L426.6,723.3L428.2,717.3L429.8,712.1L431.3,708.7L431.8,708L432.6,711.7L432.9,713.6L434.4,714.4L436.1,722L437.9,711.5L439.1,713.4L440.7,717.9L442.2,719.4L444,725.4L444.8,725.3L445.4,726L446.9,725.2L448.5,723.4L450.1,724.5L451.8,722.8L453.2,720L454.8,720.2L456.3,715.9L457.9,711L459.4,708.4L460.5,708.8L462.6,712.8L464.1,717.5L465.7,720L467.2,715.7L468.8,714.2L470.4,712.2L471.8,706L471.9,706.4L473.5,708.3L474.4,712.3L475.1,714.7L476.2,716.7L476.6,711L478.2,692.4L479.8,669L480.5,661L481.3,677.9L482.3,697.5L482.9,696.9L484,692L484.4,693.6L486,703.9L486.6,705.9L487.6,709.6L489.1,717.6L490.7,727.5L491,728.9L492.2,724.1L493.8,716.4L495.3,711.5L496.9,696.6L497.6,688.8L498.5,698.7L499.7,715L500.1,717.2L501.6,722.3L502.3,725.4L504.8,720.1L505,720L507.5,722.1L507.9,722.6L509.4,727.5L512.6,730.3L514.1,733.6L514.5,734L515.7,734L517.2,735.2L518.8,735.2L520.4,735.7L521.9,737.4L523.5,735.7L525.1,737.7L526.6,738.6L528.2,737.6L529.8,738.7L532.9,739.6L534.4,739.8L536,740.9L537.6,740.2L539.1,741.4L540.7,740.9L544,742L545.4,741.6L546.9,741.8L548.5,740.7L550.1,741.4L551.6,739.8L553.2,740.6L554.8,739.4L556.3,738.8L559.4,739.8L561,738L562.6,738.7L564.1,738.4L565.7,738.8L567.2,738L568.5,737.6L568.8,736.7L570.4,729.7L572,725.4L573.5,712.7L575.1,704.7L575.4,702.8L576.6,704.3L578.2,706.8L579.8,707.8L582.4,713.1L582.9,710.3L584.2,706.1L586,713L587.6,716.5L589.1,717.4L589.4,718.5L590.7,715.3L592.9,711.6L593.8,710.8L595.4,712.1L596.9,711.3L598,711.6L598.5,707.8L600,700.4L600.7,694.1L601.6,689.4L602.4,682L603.2,681.7L604.8,686.9L606.3,681L606.8,682L607.9,674.6L609.4,662.9L610.3,649L611,648.7L612.6,657.7L612.9,657.8L614.1,645.3L615.7,631.7L617,616.4L617.2,615L617.8,612.5L618.8,646.4L619,652.3L620,673.8L620.4,679L620.7,683.2L621.6,688.9L621.9,685.5L624.4,665.6L625.1,670.2L626,672.7L626.5,673.5L626.6,674.5L628.2,685.8L629.9,700.4L631.3,693.8L632.5,685.4L632.9,688.3L634.4,696.8L635.3,702.9L636,695.9L637.6,674.7L639.7,659.1L640,662.3L640.7,670.4L641.6,679.7L641.9,683.2L642.2,678L643.8,658.6L645.2,635.3L645.4,632.8L646.8,622.4L646.9,621.2L648.5,607.1L650,587.1L650.1,585.4L651,568.9L652,574.6L653.2,556.3L654,545.9L654.8,532.1L655.2,524.4L656.3,509.9L657,501.7L657.9,493L659.4,485.8L659.5,484.1L661,499L662,513.1L662.6,520.9L662.7,522.1L663.8,546.2L664.8,582.7L665,588.9L665.7,593.9L666,596.6L667,606.2L668,609.3L668.8,606.8L670,608.8L670.4,609.7L671.5,613.8L672,615.6L672.5,620.9L673.5,637.7L674.7,648.8L675.8,650.4L676.6,647.8L678,642.2L678.2,642.1L679,643.9L679.8,646.9L681.3,649.9L683.5,662.4L684.4,661L685.7,662.1L687.6,654.4L688,652.4L689.1,646.3L690.7,636.5L691,633.6L692.2,623.7L693.4,614.6L693.8,616L694,617.6L695.4,632.5L696.9,647.8L697.7,655.6L698.5,655.4L698.8,655.6L700.1,647.7L701.6,632.9L702,632L703.2,635.2L704.8,636.9L706.3,632.1L706.5,633.1L707.9,652.2L709.4,659.7L711,677.2L712,684.1L713,692.7L714.1,680.6L715.7,666.3L717.2,666.1L717.4,665.8L718.5,666.6L718.8,665.4L720.4,665.2L721.8,658.1L721.9,658.4L723,658.9L723.5,656.8L725,660.9L725.1,658.4L726.6,618.9L727.3,602.2L728.2,612.1L729,618L729.8,619.6L731.3,620.8L732.9,609.2L733,609.6L733.9,610.2L734.4,613.1L736,620.5L737.6,630L739.1,631.2L739.3,632.6L740.7,637.8L742.2,644.6L743,644.5L743.7,643.1L743.8,642.3L745.4,641.2L746.9,638.7L747,638L748,638.8L748.5,638.6L749,633.1L750.1,627L750.3,533L750.6,482.2L751,442.8L751.5,398.3L751.6,391.6L752,364L753.2,315.9L753.5,306.9L754.8,343.8L755.3,361L756,386.1L756.2,392.8L756.5,407.5L757.1,448.9L757.6,430.3L757.8,419.3L757.9,415.2L758.6,383.2L758.9,369L759.4,378.7L760.5,409.7L761,434.9L761.4,450.6L761.7,473.6L762,490.8L762.5,523.5L762.6,523.7L763,526.6L764,529.8L764.5,533L765.7,542.3L767,549.6L767.2,556.4L768,584.7L768.5,551.6L768.8,532.4L769.2,507.7L769.8,496.7L770,503.7L770.3,511.8L770.4,520L771,563.3L771.5,602.2L771.9,629L772.3,655L773,660.4L773.5,661.8L774.5,666.2L775,665.4L776.6,655.2L778.2,642.4L778.4,641.7L779.8,653.6L780.5,657.4L781.6,662.8L783,658.4L784.2,638.7L784.5,628.4L786,573.8L786.5,558.8L787.6,583L788,587.5L789,608.9L789.4,614.2L790.3,638.6L790.7,643.3L790.9,645L792.2,637.4L792.6,634L793.8,659.8L794,663.8L795.4,684.9L796,696.3L796.9,698.5L798,700L798.5,701.1L799,702.8L800.1,704.3L801.6,707.1L806,716.2L808,721.2L809.4,723.7L811,725.8L812.6,728.4L815.6,731.1L816.7,729.2L818.8,726.2L819,725.7L821,726.3L821.9,723.4L823.3,717.5L823.5,716.5L825.1,710.7L825.5,709.6L826.6,718.2L827.7,725.1L828.2,726.1L829.9,725.3L831.3,724.9L832.9,726.2L834,726.8L834.4,726L836,722.1L837.6,720.2L839.1,720.9L840.7,725.2L842.2,723L843.8,728.3L845.4,727.7L846.9,731.8L847.4,732.6L848.5,733.9L850,724.4L851.6,711L852,707L853.2,708L854,712.2L854.8,715.7L857.3,718.5L857.9,717.4L859.4,717.3L859.5,717.2L860.5,721.4L861.6,723.6L862.6,721.4L864.1,716.1L865,715.6L865.7,716.4L867.2,719.1L868.8,725.1L870.4,724.4L871.5,729.3L871.9,729.2L875.1,721.4L876,719.4L876.6,719.8L878.2,717.3L879.8,718L881.3,718L882.5,718.8L882.9,718.5L884.4,714L886,718.2L887.6,712.5L888.6,711.9L889.1,715L890,715.9L890.7,716.3L892.2,722.6L893.5,728.5L893.8,728.9L895.4,724.6L896.9,721.3L898.5,716L898.7,715.8L900.1,717.3L900.4,716.4L901.6,712.2L902,712L903.2,715.6L904.8,722.1L905.7,721.1L906.3,719.7L907.9,713.7L908.3,712.8L909.4,711L909.6,711L909.8,709.7L910.9,694.5L911,693L912.6,713.7L913.5,718.4L915.7,723.6L917,724.7L917.2,724.5L918.8,721.1L920.4,719L921.3,719.2L921.9,722.3L923.5,723.2L925,727.1L925.7,727L926.6,723.4L927.6,716.2L928.2,709.3L929.2,692.8L929.8,682.1L931,664.5L931.2,667.5L931.3,669.5L932.9,696.7L934.4,713.9L935.3,721.7L935.7,724.4L936,725.3L937,726.7L937.9,726.5L939.1,724.4L940.7,726L942,721.6L943.8,718.3L944.9,718.3L945.4,720.9L946.9,726.9L947.5,729.6L948.5,726.5L950.1,723.3L951,721.7L951.6,722L953.2,725.4L954.8,728L957.9,730.8L958.8,732.8L959.4,732.3L959.7,731.7L961,727.4L962.3,726.3L962.6,725.6L964.1,725.3L965,721.8L965.8,719.3L967.2,724.5L968.8,731.3L970,734.4L970.4,733.9L971.9,729.9L973.5,730.7L975.1,725.4L975.3,724.9L976.6,725.6L978.2,730L979.7,734.5L980.6,731.1L981.3,729.3L982.9,722L983,721.4L984.4,725.7L985.8,731.1L986,731.2L987.6,728.7L989.1,730.7L991.9,736.5L992.2,735.6L994.5,727.1L995.4,723.3L997,721.3L998.5,725.6L1000.1,727.5L1001.6,731.9L1003.2,734.2L1004.8,730.6L1006.3,729.1L1007.9,726.8L1009.3,721.6L1009.4,721.9L1011,722.3L1012,725.7L1012.6,725.2L1014.1,721.8L1015.4,722.2L1015.7,722.1L1017.2,723.3L1018.8,723.7L1018.9,724.1L1020.4,723.4L1020.6,723.5L1021.9,728.1L1023.5,735.3L1024,736.4L1025.1,732.7L1026.6,726.5L1027.6,723.9L1028.2,723L1029.3,717.1L1029.8,713.7L1031.3,712.5L1032,709.9L1032.9,716.9L1034,728.8L1034.5,732.3L1036,725.7L1037.6,719.4L1038,717.4L1039.1,715.8L1040.7,718.8L1042.2,723.5L1042.4,723.7L1043.8,726.6L1045.4,732L1045.9,732.7L1046.7,727L1046.9,725.1L1048.5,718L1050,720.9L1051.6,720.2L1052.8,725L1053.2,727L1054.8,729.2L1056.3,734.5L1057,736.5L1057.9,735.1L1059.4,726.3L1061,725.3L1062.6,718.9L1064,710.2L1064.1,710.2L1065.7,719.6L1067.2,727.6L1067.6,728.4L1068.8,725.8L1070.4,722.8L1071.9,715.5L1072.5,715L1073.5,720.1L1075.1,721.6L1075.5,723.3L1076.6,727.2L1078.2,729.7L1079,733.4L1079.8,732.2L1081.3,728L1081.6,727.5L1082.9,725.7L1084.4,720.6L1085,720.6L1086,725.7L1087.6,730.4L1089.1,732.5L1089.4,733.6L1090.3,730.6L1090.7,728.9L1092.2,729.9L1093.8,721.2L1094.6,717.8L1095.4,720.2L1096.9,722.9L1097.2,723.6L1098.5,728.2L1099,728.1L1100.1,728.6L1101.6,733.1L1103.2,727.9L1104.2,724.2L1105,718.6L1106.3,723L1107.9,730.5L1109.4,735L1111,736.9L1111.2,737.7L1112,735.4L1112.6,734L1114.1,731.8L1115.7,721.6L1117.3,717.6L1118,724.6L1118.8,730.1L1119,731.2L1120.4,724.5L1121,722.2L1121.9,720.6L1123.5,711.9L1124,707.4L1124.2,705.9L1125.1,709.2L1126.6,721.7L1128.2,724.3L1128.6,726.4L1130,729.4L1131.3,733L1132.9,738.9L1133.8,740.4L1134.4,739.1L1136,734.2L1137.3,733.3L1137.6,733.5L1139.1,736.1L1140,737.3L1140.7,738.1L1142.2,740.1L1144,739.6L1145.4,736.7L1148.5,729.6L1149,729.2L1150.1,730.6L1151.6,733.5L1153,736.6L1154.8,738.6L1156.8,738.8L1157.9,740.1L1160.8,742.4L1162.7,742.2L1164.1,742.3L1165.7,743L1167.2,742.2L1168.8,742.3L1170.4,741.6L1173.5,741.3L1175.1,740.8L1176.6,739.8L1178.2,739.3L1179.5,738L1180,738L1181.3,738.9L1182.9,737.9L1184.4,738.5L1186,735.7L1187.6,735.3L1189.1,736.3L1190.7,732.4L1192.4,732.5L1195.4,736.4L1197.3,736.4L1200.1,738.2L1201.6,738.9L1203.3,737.9L1204.8,737.4L1206.3,738.2L1207.9,737.1L1209.4,738.3L1211,737.3L1212.6,737.3L1214,736.9L1217.2,740.4L1218.8,743.4L1219,743.6L1221.9,744L1226.6,744L1228.2,744.5L1229.8,744.6L1232,745.3L1234.4,744.7L1236,744L1239.1,743.4L1240.7,742.4L1243.8,742.4L1245.4,741.8L1248.8,742.1L1250.1,741.8L1251.6,742.3L1253.2,741.4L1254.8,742.4L1256.3,741.3L1257.9,741.3L1259.6,741.7L1261,741.4L1262.6,741.4L1264.1,742.4L1265.7,742.9L1267.2,742.7L1268.8,742.9L1271.9,742.6L1273.5,742.6L1275.1,742.3L1276.6,743.4L1278.2,743.4L1279.8,743L1281.4,742.9L1282.9,743.1L1284.4,742.9L1286,742.2L1287.6,741.1L1289.1,741.9L1290,741.6L1290.7,741.1L1292.2,741L1293.8,739.6L1295.4,737L1296.9,735.8L1298,735.8L1298.5,736.3L1300.1,736.2L1301.6,737.6L1303.2,738.7L1304.8,739.1L1306,740.1L1307.9,738.9L1309.4,736.1L1311,734.8L1312,733.7L1312.6,731.9L1314.2,730L1315,726.2L1315.7,727.8L1316.5,731.2L1317,734.2L1317.2,735L1318.8,735.4L1320.4,737.4L1322,740.1L1323.5,737.7L1325.1,736.5L1326.6,734.8L1328.2,729.7L1329.8,729.1L1331,727.6L1332.9,728.9L1336,732.2L1336.8,732.3L1339.1,735L1340.7,739.1L1341,739.4L1342.2,739.6L1343.8,739L1345.4,740.2L1346.9,739.7L1351.6,740.9L1353.2,741.8L1353.6,741.8L1354.8,741L1356.3,741.3L1357.9,739.7L1359.4,739.8L1361,739.4L1361.5,738.9L1362.6,737.5L1364.1,738.1L1365.4,737.6L1365.7,737.8L1367.2,736.8L1368.8,738.2L1370.4,737.8L1371.9,738.6L1373.5,738.5L1375.1,739.7L1376.6,739.8L1378.2,741L1379.3,740.3L1379.8,740.1L1381.3,741.2L1382.9,741.7L1384.4,741.5L1386,742.4L1387.6,742.3L1390.7,743L1392.2,743.1L1393.8,743.7L1395.4,743.6L1396.9,743L1398.5,743.5L1400.1,743.1L1403.2,743.4L1404.8,743L1407.9,744L1411,743.2L1412.6,743.7L1415.7,742.7L1417.2,742.4L1418.8,742.5L1423.5,742L1425.1,742.7L1428.7,741.9L1430.7,741.9L1430.7,750.4Z"/><path fill="#BDE7F9" d="M161,750.4L161,750.4L180,750L187.6,748L190.7,747.6L192.2,747.7L193.8,747.4L196.9,747.2L198.5,746.8L200.5,746.6L201.6,745L203.4,742.9L204.8,744.8L206.3,746.6L207.9,747.1L215.7,747.4L217.2,747.7L218.8,747.5L220.4,747.9L226.6,747.9L228.2,748.2L232,748.2L234.4,749L236,749.3L243.8,749.3L247,749.2L248.5,748.2L250.1,746.6L253.2,744.2L256.3,742.1L257.9,740.6L259.4,738.1L261,737.6L262.6,735.2L264.1,732.2L264.5,732L265.7,729.6L267.2,727.3L268.8,722.2L269,722L270.4,701.6L271.5,687L271.9,676.8L273.6,640L274.3,560L275,512.9L275.2,497L276.1,560L276.6,608.5L276.9,640L278.2,669L278.4,673L279.8,666L281.3,694.2L282,704.5L282.9,713.2L284.5,725L286,710.2L287.2,700L287.6,695.5L288,690.5L289.1,706L289.7,715L290.7,709L292.2,702.6L293.7,695L294,695.7L295.4,702.7L295.8,704L296.9,704.1L298.5,698.4L299.3,699L300.1,700L301.6,704.5L303.2,710.2L304.5,716.7L304.8,716L306.3,715.4L307.9,716.3L308,716.1L309.8,711.5L311,717.3L311.5,720L313.3,716.7L314.1,721.1L315.7,725.5L316.7,730.6L317.2,730.8L318.8,733.6L320.4,733.1L321.9,735.3L323.5,735.6L323.7,735.8L325.1,735.7L327,736.7L328.2,732.1L329.8,724.2L330.7,721L331.3,722.1L332.9,722.9L334,722L334.4,722.9L336,729L337.6,732L339.1,726.4L340.2,724.5L340.7,725.5L342.9,733L343.8,730.6L345.4,726.7L346.9,720.5L347.2,720L348.5,717L350.1,718L352.4,711.5L353.2,711.6L354.8,713.4L356.3,718.9L357.7,720L359.4,709.1L360.3,704.8L361,702L362,697.5L362.6,698.3L364.1,702.1L365.5,704.5L365.7,705L367.2,706.4L368.8,715.4L370.7,716.7L371.9,712.2L373.3,711.5L373.5,712L374.2,713.1L375.1,713.3L376.6,714.8L377.7,716.7L378.2,715.6L379.8,709.4L381.3,710.7L382.9,701L384.4,697.3L386,695.1L386.4,695L387.6,700.4L389.1,702.1L390.7,707.8L391.6,711.5L392.2,710.5L394.2,704.5L395,707.3L395.4,708.5L396.9,715L398.5,693.7L400.1,676.7L401.2,662.7L401.6,667.5L403.2,684.1L404.7,704.5L406.4,708L407.9,699L409.4,692.3L410,696.7L411,699.8L412.6,715.3L413.5,721.9L414.3,727L415.7,714.9L417.3,696.7L417.8,698.9L418.8,701.1L420.5,708L421.9,711.4L424,718.5L425.7,725.4L426.6,723.3L428.2,717.3L429.8,712.1L431.3,708.7L431.8,708L432.6,711.7L432.9,713.6L434.4,714.4L436.1,722L437.9,711.5L439.1,713.4L440.7,717.9L442.2,719.4L444,725.4L444.8,725.3L445.4,726L446.9,725.2L448.5,723.4L450.1,724.5L451.8,722.8L453.2,720L454.8,720.2L456.3,715.9L457.9,711L459.4,708.4L460.5,708.8L462.6,712.8L464.1,717.5L465.7,720L467.2,715.7L468.8,714.2L470.4,712.2L471.8,706L471.9,706.4L473.5,708.3L474.4,712.3L475.1,714.7L476.2,716.7L476.6,711L478.2,692.4L479.8,669L480.5,661L481.3,677.9L482.3,697.5L482.9,696.9L484,692L484.4,693.6L486,703.9L486.6,705.9L487.6,709.6L489.1,717.6L490.7,727.5L491,728.9L492.2,724.1L493.8,716.4L495.3,711.5L496.9,696.6L497.6,688.8L498.5,698.7L499.7,715L500.1,717.2L501.6,722.3L502.3,725.4L504.8,720.1L505,720L507.5,722.1L507.9,722.6L509.4,727.5L512.6,730.3L514.1,733.6L514.5,734L515.7,734L517.2,735.2L518.8,735.2L520.4,735.7L521.9,737.4L523.5,735.7L525.1,737.7L526.6,738.6L528.2,737.6L529.8,738.7L532.9,739.6L534.4,739.8L536,740.9L537.6,740.2L539.1,741.4L540.7,740.9L544,742L545.4,741.6L546.9,741.8L548.5,740.7L550.1,741.4L551.6,739.8L553.2,740.6L554.8,739.4L556.3,738.8L559.4,739.8L561,738L562.6,738.7L564.1,738.4L565.7,738.8L567.2,738L568.5,737.6L568.8,736.7L570.4,729.8L572,725.5L573.5,712.8L575.1,704.8L575.4,702.9L576.6,704.4L578.2,707L579.8,707.9L582.4,713.2L582.9,710.4L584.2,706.2L586,713.2L587.6,716.6L589.1,717.5L589.4,718.6L590.7,715.5L592.9,711.8L593.8,711L595.4,712.3L596.9,711.5L598,711.9L598.5,708.1L600,700.7L600.7,694.4L601.6,689.7L602.4,682.2L603.2,681.9L604.8,687.2L606.3,681.3L606.8,682.3L607.9,674.9L609.4,663.2L610.3,649.3L611,649L612.6,658L612.9,658.1L614.1,645.6L615.7,632.1L617,616.8L617.2,615.3L617.8,612.8L618.8,646.8L619,652.6L620,677.7L620.7,685.2L621.6,688.9L621.9,685.5L623.5,673L624.4,666.2L625.1,671L626,673.7L626.5,674.8L626.6,675.8L628.2,686.6L629.9,700.7L631.3,693.8L632.5,685.6L632.9,688.5L634.4,697.4L635.3,703.6L636,696.8L637.6,675.9L639.1,664L639.7,659.6L640,663L640.7,671.5L641.6,680.5L641.9,683.9L642.2,678.6L643.8,659.9L645.2,636.6L645.4,634.1L646.8,622.4L646.9,621.2L648.5,608.1L650,591.4L650.1,590L651,575.2L651.6,576.6L652,576.8L653.2,558.6L654,549.6L654.8,538.8L655.2,532.6L656.3,520.5L657,515.3L657.9,511L659.4,505.2L659.5,503.9L661,514.9L662,526.2L662.7,534.6L663.8,555L664.8,594.5L665,601.6L666,609L667,617.1L667.2,617.3L668,619.9L668.8,619L670.4,621.4L672,625.2L672.5,629.5L673.5,644.9L674.7,656.3L675.8,660.3L676.6,657.6L678,650.1L678.2,649.6L679,651L679.8,655L681.3,656.3L683.5,668.6L684.4,668.8L685.7,671.8L686,670.5L688,660.2L689.1,654.4L690.7,642.8L691,640.2L692.2,632.4L693.4,623.1L693.8,624.8L694,626.6L695.4,642.3L696.9,657.4L697.7,665.9L698.5,664.4L698.8,664.1L700.1,656.6L701.6,641.1L702,639.9L703.2,644.2L704.8,646.1L706.3,640.9L706.5,642L707.9,660.1L709.4,667.1L711,683.2L712,690L713,697.8L714.1,687.2L715.7,676.3L717.2,673.9L717.4,673.4L718.5,673.1L718.8,672L720.4,671.3L721.8,665.2L721.9,665.4L723,665L723.5,662.6L725,662.8L725.1,660.9L726.6,629.2L727.3,616.3L728.2,624.4L729,628.4L729.8,629.1L731.3,629.8L732.9,619.9L733,620.2L733.9,621.4L734.4,624.7L736,630.9L737.6,639.3L739.1,642.4L739.3,643.8L740.7,649.3L742.2,655.8L743,655.4L743.7,654.3L743.8,653.6L745.4,652.3L746.9,649.6L747,648.9L748,647.9L748.5,646.8L749,641.4L750.1,633.8L750.3,555.7L750.6,503.6L751,469.9L751.5,431.1L751.6,425.2L752,400.4L753.2,363.3L753.5,355.5L754.8,383.7L755.3,398L756,418.5L756.2,423.6L756.3,427.3L756.5,434.3L757.1,464.9L757.6,451.6L757.8,443.4L757.9,440.2L758.5,417.6L758.9,403.1L759.4,409.1L760.5,437.5L761,465.1L761.4,481.6L761.7,502.1L762,515.9L762.5,541.9L762.6,542.6L763,547.5L764,551.8L764.1,552.6L764.5,554.8L765.7,563.5L767,571.5L767.2,576.9L767.4,582.5L768,598.9L768.5,576.2L768.8,563L769.2,545.7L769.8,538.6L770,543.9L770.3,550.7L770.4,557L771,590.4L771.5,620.3L771.9,641L772.3,661.4L773,668.3L774.5,675.3L775,675.6L776.6,666.2L778.2,654.6L778.4,654L779.8,664.7L780.5,667.8L781.3,671.1L781.6,672.6L783,665.5L784.2,647.2L784.5,638.7L786,591.4L786.5,579.5L787.6,602.6L788,606.8L789,624.7L789.4,628.7L790.3,647.1L790.7,650.9L790.9,652.3L792.2,648.5L792.6,647L793.8,670.2L794,673.5L795.4,692L796,702.2L796.9,704.9L798,706.8L798.5,708L799,709.9L800.1,711.1L806.3,721.9L808,725.2L809.4,727.2L811,728.9L812.6,731L814.1,731.8L815.6,733.3L818.8,729.1L819,728.6L821,729.1L821.9,726.7L823.5,720.8L825.1,716L825.5,715.2L826.6,722.6L827.7,728.4L828.2,729.2L829.9,728.3L831.3,727.9L834,729.5L836,725.9L837.6,723.9L839.1,725L840.7,728.3L842.2,726.2L843.8,730.9L845.4,730.3L846.9,733.9L847.4,734.7L848.5,735.9L850.1,727.4L851.6,716.4L852,713L853.2,713.5L854,717.1L854.8,720.1L856.3,722.1L857.3,722.7L857.9,721.6L859.4,721.7L859.5,721.5L860.5,724.9L861,725.6L861.6,726.8L862.6,725.2L864.1,720.3L865,719.8L865.7,720.6L867.2,723.5L868.8,728.1L870.4,727.6L871.5,731.8L871.9,731.7L873.5,728.5L875.1,724.9L876,723.4L876.6,723.8L878.2,721.8L879.8,722.4L881.3,722.2L882.5,723.1L882.9,722.8L884.4,718.5L886,722L887.6,717.2L888.6,716.6L889.1,719.2L890,720.2L890.7,720.6L892.2,726L893.5,730.9L893.8,731.3L895.4,727.8L896.9,724.7L898.5,719.9L898.7,719.7L900.1,721L901.6,717.1L902,716.8L903.2,719.6L904.8,725.2L905.7,724.4L906.3,723.2L907.9,717.8L908.3,717.1L909.4,715.8L909.6,715.9L909.8,714.7L911,702L912.6,718L913.5,721.9L915.7,726.4L917,727.5L917.2,727.3L918.8,724.5L920.4,722.6L921.3,722.7L921.9,725.3L923.5,726.3L925,729.6L925.7,729.5L926.6,726.3L927.6,720.1L928.2,714.3L929.2,700.2L929.8,690.7L931,676.3L931.2,677.9L931.3,679.6L932.9,702.8L934.4,718.1L935.3,725.1L935.7,727.4L936,728.3L937,729.4L937.9,729.3L939.1,727.5L940.7,728.9L942,725.1L943.8,722.3L944.9,722.2L945.4,724.4L946.9,729.5L947.5,731.9L948.5,729.3L951,725.3L951.6,725.5L953.2,728.4L954.8,730.3L957.9,732.7L958.8,734.4L959.4,734L960,732.8L961,730.1L962.3,729.2L962.6,728.6L964.1,728.1L965,725.3L965.8,723.3L967.2,727.4L968.8,733.1L970,736L970.4,735.6L971.9,732.3L973.5,732.9L975.3,727.9L976.6,728.5L978.2,732.3L979.7,736.2L980.6,733.2L981.3,731.5L982.9,725.7L983,725.1L984.4,728.5L985.8,733.3L986,733.4L987.6,731.1L989.1,732.8L991.9,737.8L992.2,737.1L993.8,731.8L994.5,729.9L995.4,726.9L997,725L998.5,728.6L1000.1,730.4L1001.6,734L1003.2,735.6L1004.8,732.7L1006.3,731.5L1007.9,729.8L1009.3,725.6L1009.4,725.8L1011,726L1012,728.8L1012.6,728.4L1014.1,725.4L1015.4,725.9L1015.7,725.8L1017.2,726.9L1018.8,727.2L1018.9,727.5L1020.4,727.1L1020.6,727.2L1021.9,730.8L1023.5,736.8L1024,737.7L1025.1,734.7L1026.6,729.4L1027.6,727L1028.2,726.2L1029.3,721.4L1029.8,718.8L1031.3,717.9L1032,715.7L1032.9,721.3L1034,731.2L1034.5,734L1036,728.6L1037.6,723.8L1038,722.2L1039.1,720.8L1040.7,723.4L1042.2,727L1042.4,727.2L1043.8,729.4L1045.4,734.2L1045.9,734.7L1046.7,730L1046.9,728.5L1048.5,722.8L1050.1,725.2L1051.6,724.6L1052.8,728.4L1053.2,730L1054.8,731.6L1056.3,736.2L1057,737.8L1057.9,736.6L1059.4,729.5L1061,728.8L1062.6,723.4L1064,716.6L1064.1,716.6L1065.7,724.3L1067.2,730.7L1067.6,731.4L1068.8,729.3L1070.4,726.9L1071.9,720.7L1072.5,720.3L1073.5,724.5L1075.1,725.9L1075.5,727.3L1076.6,730.4L1078.2,732.4L1079,735.4L1079.8,734.4L1081.3,731.1L1082.9,729.2L1084.4,725.1L1085,725.1L1086,729.3L1087.6,733L1089.1,734.8L1089.4,735.7L1090.3,733.3L1090.7,731.9L1092.2,732.7L1093.8,725.6L1094.6,723L1095.4,724.9L1096.9,727L1097.2,727.6L1098.5,731.2L1099,731.2L1100.1,731.6L1101.6,735.4L1103.2,731.2L1104.2,728L1105,723.5L1106.3,727.3L1107.9,733.3L1109.4,737L1111,738.6L1111.2,739.2L1112,737.2L1112.6,736.1L1114.1,734.3L1115.7,726.2L1117.3,722.8L1118,728.5L1118.8,733L1119,733.9L1120.4,728.4L1121,726.6L1121.9,725.3L1123.5,718.5L1124,714.9L1124.2,713.7L1125.1,716.3L1126.6,726.1L1128.2,728.4L1128.6,730.1L1130,732.4L1131.3,735.4L1132.9,740.1L1133.8,741.5L1134.4,740.3L1136,736.1L1137.3,735.5L1137.6,735.6L1139.1,737.7L1140.7,739.3L1142.2,741.1L1144,740.8L1145.4,738.2L1148.5,732.1L1149,731.7L1150.1,732.9L1153,738L1154.8,739.7L1156.8,739.9L1157.9,741L1159.4,741.8L1160.8,743L1162.7,742.8L1164.1,742.9L1165.7,743.5L1167.2,742.9L1168.8,743L1170.4,742.4L1175.1,741.7L1176.6,740.8L1178.2,740.4L1179.5,739.3L1180,739.4L1181.3,740.1L1182.9,739.2L1184.4,739.8L1186,737.5L1187.6,737.2L1189.1,737.9L1190.7,734.4L1192.4,734.5L1195.4,737.7L1197.3,737.7L1201.6,739.7L1203.3,738.9L1204.8,738.4L1206.3,739.2L1207.9,738.1L1209.4,739.2L1211,738.3L1212.6,738.3L1214,738L1217.2,741.1L1218.8,743.8L1219,744L1221.9,744.4L1223.5,744.2L1226.6,744.3L1228.2,744.8L1229.8,744.9L1232,745.5L1234.4,744.9L1237.6,744L1239.1,743.8L1240.7,742.9L1243.8,742.9L1245.4,742.4L1248.8,742.6L1250.1,742.4L1251.6,742.8L1253.2,742L1254.8,742.9L1256.3,741.9L1257.9,741.9L1259.6,742.2L1261,742L1262.6,742L1264.1,742.9L1265.7,743.3L1267.2,743.2L1268.8,743.3L1275.1,742.8L1276.6,743.8L1278.2,743.8L1281.4,743.3L1282.9,743.5L1284.4,743.4L1286,742.7L1287.6,741.8L1289.1,742.4L1290,742.2L1290.7,741.7L1292.2,741.7L1293.8,740.4L1295.4,738.1L1296.9,736.9L1298,736.9L1298.5,737.4L1300.1,737.2L1303.2,739.5L1304.8,739.8L1306,740.7L1307.9,739.6L1309.4,737.1L1311,735.8L1312,734.8L1312.6,733.3L1314.2,731.5L1315,728.1L1315.7,729.5L1316.5,732.6L1317,735.3L1317.2,736L1318.8,736.4L1320.4,738.3L1322,740.6L1323.5,738.4L1325.1,737.4L1326.6,735.9L1328.2,731.2L1329.8,730.7L1331,729.4L1332.9,730.4L1336,733.4L1336.8,733.6L1339.1,736L1340.7,739.8L1341,740.1L1342.2,740.2L1343.8,739.7L1345.4,740.9L1346.9,740.4L1351.6,741.6L1353.2,742.3L1353.6,742.3L1354.8,741.6L1356.3,741.9L1357.9,740.4L1359.4,740.5L1361,740.2L1361.5,739.8L1362.6,738.5L1364.1,739L1365.4,738.6L1365.7,738.8L1367.2,737.9L1368.8,739.1L1370.4,738.8L1371.9,739.5L1373.5,739.4L1375.1,740.5L1376.6,740.6L1378.2,741.7L1379.3,741L1379.8,740.8L1381.3,741.8L1382.9,742.3L1384.4,742.1L1386,742.9L1387.6,742.8L1390.7,743.4L1392.2,743.5L1393.8,744.1L1395.4,744L1396.9,743.4L1398.5,743.9L1400.1,743.5L1403.2,743.8L1404.8,743.4L1407.9,744.3L1411,743.6L1412.6,744.1L1415.7,743.2L1417.2,742.9L1418.8,743L1423.5,742.6L1425.1,743.2L1426.7,743L1428.7,742.4L1430.7,742.5L1430.7,750.4Z"/><path fill="#9966FF" d="M161,750.4L161,750.4L180,750L187.6,748L190.7,747.6L192.2,747.7L193.8,747.4L196.9,747.2L198.5,746.8L200.5,746.6L201.6,745L203.4,742.9L204.8,744.8L206.3,746.6L207.9,747.1L215.7,747.4L217.2,747.7L218.8,747.5L220.4,747.9L226.6,747.9L228.2,748.2L232,748.2L234.4,749L236,749.3L243.8,749.3L247,749.2L248.5,748.2L250.1,746.6L253.2,744.2L256.3,742.1L257.9,740.6L259.4,738.1L261,737.6L262.6,735.2L264.1,732.2L264.5,732L265.7,729.6L267.2,727.3L268.8,722.2L269,722L270.4,701.6L271.5,687L271.9,676.8L273.6,640L274.3,560L275,512.9L275.2,497L276.1,560L276.6,608.5L276.9,640L278.2,669L278.4,673L279.8,666L281.3,694.2L282,704.5L282.9,713.2L284.5,725L286,710.2L287.2,700L287.6,695.5L288,690.5L289.1,706L289.7,715L290.7,709L292.2,702.6L293.7,695L294,695.7L295.4,702.7L295.8,704L296.9,704.1L298.5,698.4L299.3,699L300.1,700L301.6,704.5L303.2,710.2L304.5,716.7L304.8,716L306.3,715.4L307.9,716.3L308,716.1L309.8,711.5L311,717.3L311.5,720L313.3,716.7L314.1,721.1L315.7,725.5L316.7,730.6L317.2,730.8L318.8,733.6L320.4,733.1L321.9,735.3L323.5,735.6L323.7,735.8L325.1,735.7L327,736.7L328.2,732.1L329.8,724.2L330.7,721L331.3,722.1L332.9,722.9L334,722L334.4,722.9L336,729L337.6,732L339.1,726.4L340.2,724.5L340.7,725.5L342.9,733L343.8,730.6L345.4,726.7L346.9,720.5L347.2,720L348.5,717L350.1,718L352.4,711.5L353.2,711.6L354.8,713.4L356.3,718.9L357.7,720L359.4,709.1L360.3,704.8L361,702L362,697.5L362.6,698.3L364.1,702.1L365.5,704.5L365.7,705L367.2,706.4L368.8,715.4L370.7,716.7L371.9,712.2L373.3,711.5L373.5,712L374.2,713.1L375.1,713.3L376.6,714.8L377.7,716.7L378.2,715.6L379.8,709.4L381.3,710.7L382.9,701L384.4,697.3L386,695.1L386.4,695L387.6,700.4L389.1,702.1L390.7,707.8L391.6,711.5L392.2,710.5L394.2,704.5L395,707.3L395.4,708.5L396.9,715L398.5,693.7L400.1,676.7L401.2,662.7L401.6,667.5L403.2,684.1L404.7,704.5L406.4,708L407.9,699L409.4,692.3L410,696.7L411,699.8L412.6,715.3L413.5,721.9L414.3,727L415.7,714.9L417.3,696.7L417.8,698.9L418.8,701.1L420.5,708L421.9,711.4L424,718.5L425.7,725.4L426.6,723.3L428.2,717.3L429.8,712.1L431.3,708.7L431.8,708L432.6,711.7L432.9,713.6L434.4,714.4L436.1,722L437.9,711.5L439.1,713.4L440.7,717.9L442.2,719.4L444,725.4L444.8,725.3L445.4,726L446.9,725.2L448.5,723.4L450.1,724.5L451.8,722.8L453.2,720L454.8,720.2L456.3,715.9L457.9,711L459.4,708.4L460.5,708.8L462.6,712.8L464.1,717.5L465.7,720L467.2,715.7L468.8,714.2L470.4,712.2L471.8,706L471.9,706.4L473.5,708.3L474.4,712.3L475.1,714.7L476.2,716.7L476.6,711L478.2,692.4L479.8,669L480.5,661L481.3,677.9L482.3,697.5L482.9,696.9L484,692L484.4,693.6L486,703.9L486.6,705.9L487.6,709.6L489.1,717.6L490.7,727.5L491,728.9L492.2,724.1L493.8,716.4L495.3,711.5L496.9,696.6L497.6,688.8L498.5,698.7L499.7,715L500.1,717.2L501.6,722.3L502.3,725.4L504.8,720.1L505,720L507.5,722.1L507.9,722.6L509.4,727.5L512.6,730.3L514.1,733.6L514.5,734L515.7,734L517.2,735.2L518.8,735.2L520.4,735.7L521.9,737.4L523.5,735.7L525.1,737.7L526.6,738.6L528.2,737.6L529.8,738.7L532.9,739.6L534.4,739.8L536,740.9L537.6,740.2L539.1,741.4L540.7,740.9L544,742L545.4,741.6L546.9,741.8L548.5,740.7L550.1,741.4L551.6,739.8L553.2,740.6L554.8,739.4L556.3,738.8L559.4,739.8L561,738L562.6,738.7L564.1,738.4L565.7,738.8L567.2,738L568.5,737.6L568.8,736.7L570.4,729.8L572,725.5L573.5,712.8L575.1,704.8L575.4,702.9L576.6,704.4L578.2,707L579.8,708L582.4,713.3L582.9,710.5L584.2,706.3L586,713.3L587.6,716.7L589.1,717.6L589.4,718.7L590.7,715.6L592.9,711.9L593.8,711.1L595.4,712.4L596.9,711.6L598,712L598.5,708.2L600,700.8L600.7,694.5L601.6,689.8L602.4,682.4L603.2,682.1L604.8,687.3L606.3,681.4L606.8,682.4L607.9,675L609.4,663.3L610.3,649.5L611,649.2L612.6,658.1L612.9,658.2L614.1,645.8L615.7,632.2L617,616.9L617.2,615.5L617.8,613L618.8,646.9L619,652.8L620,679.3L620.7,686L621.6,688.9L621.9,685.5L623.5,673.1L624.4,666.5L625.1,671.2L626,674.1L626.5,675.4L626.6,676.2L628.2,686.9L629.9,700.8L631.3,693.8L632.5,685.7L632.9,688.6L634.4,697.6L635.3,703.9L636,697.2L637.6,676.2L639.1,664.2L639.7,659.8L640,663.3L640.7,671.9L641.6,680.8L641.9,684.1L642.2,678.8L643.8,660.2L645.2,636.9L645.4,634.4L646.8,622.4L646.9,621.2L648.5,608.3L650,592.2L650.1,590.9L651,576.3L651.6,577.3L652,577.1L653.2,559L654,550.2L654.8,539.9L655.2,533.9L656.3,522.1L657,517.5L657.9,513.7L659.4,508.2L659.5,507L661,517.4L662,528.2L662.7,536.6L663.8,556.4L664.8,596.3L665,603.6L666,610.9L667,618.8L667.2,619L668,621.6L668.8,620.9L670.4,623.2L671.9,626.3L672,626.7L672.5,630.8L673.5,646.1L674.7,657.5L675.8,661.9L676.6,659.1L678,651.4L678.2,650.8L679,652.1L679.8,656.2L681.3,657.2L682.9,666.3L683.5,669.5L684.4,670L685.7,673.3L686,672L687.6,663.4L689.1,655.6L690.7,643.8L691,641.3L692.2,633.7L693.4,624.4L693.8,626.2L694,628L695.4,643.8L696.9,658.8L697.7,667.5L698.5,665.7L698.8,665.4L700.1,657.9L701.6,642.3L702,641.1L703.2,645.5L704.8,647.6L706.3,642.2L706.5,643.3L707.9,661.3L709.4,668.2L711,684.1L712,690.9L713,698.6L714.1,688.2L715.7,677.8L717.2,675.1L717.4,674.6L718.5,674.1L718.8,673L720.4,672.2L721.8,666.3L721.9,666.4L723,665.9L723.5,663.4L725,663.1L725.1,661.2L726.6,630.8L727.3,618.5L728.2,626.3L729,630L729.8,630.6L731.3,631.1L732.9,621.6L733,621.9L733.9,623.1L734.4,626.4L736,632.5L737.6,640.7L739.1,644.1L739.3,645.5L740.7,651.1L742.2,657.6L743,657L743.7,656.1L743.8,655.3L745.4,654L746.9,651.2L747,650.6L748,649.3L748.5,648L749,642.6L750.1,634.9L750.3,559L750.6,506.6L751,473.5L751.5,435.2L751.6,429.4L752,404.9L753.2,369.2L753.5,361.6L754.8,388.7L755.3,402.6L756,422.6L756.2,427.4L756.3,431L756.5,437.6L757.1,467.2L757.6,454.9L757.8,447.1L757.9,444.1L758.5,422.1L758.9,408.3L759.4,413.7L760.5,441.8L761,469.8L761.4,486.4L761.7,506.5L762,519.8L762.5,544.7L762.6,545.5L763,550.8L764,555.2L764.1,555.9L764.5,558.1L765.7,566.8L767,574.9L767.2,580L767.4,585.5L768,601.1L768.5,579.9L769.2,551.6L769.8,545L770,550L770.3,556.7L770.4,562.7L771,594.6L771.5,623.1L771.9,642.9L772.3,662.4L773,669.5L774.5,676.7L775,677.1L776.6,667.9L778.2,656.5L778.4,655.9L779.8,666.4L780.5,669.4L781.3,672.6L781.6,674.1L783,666.6L784.2,648.5L784.5,640.3L786,594.2L786.5,582.7L787.6,605.6L788,609.8L789,627.1L789.4,631L790.3,648.4L790.7,652L790.9,653.4L792.6,649L793.8,671.8L794,675L795.4,693.1L796,703.1L796.9,705.8L798,707.8L798.5,708.9L799,710.8L800.1,712L806.3,722.4L808,725.6L809.4,727.5L811,729.2L812.6,731.2L814.1,732.1L815.6,733.5L818.8,729.4L819,728.9L821,729.4L821.9,727.1L823.5,721.2L825.1,716.6L825.5,715.7L826.6,723.1L827.7,728.7L828.2,729.5L829.9,728.6L831.3,728.2L834,729.8L836,726.3L837.6,724.3L839.1,725.4L840.7,728.6L842.2,726.5L843.8,731.2L845.4,730.6L846.9,734.1L847.4,734.9L848.5,736.1L850.1,727.7L851.6,717L852,713.6L853.2,714.1L854,717.6L854.8,720.5L856.3,722.5L857.3,723.1L857.9,722.1L859.4,722.1L859.5,722L860.5,725.3L861,726L861.6,727.1L862.6,725.6L864.1,720.7L865,720.3L865.7,721L867.2,723.9L868.8,728.4L870.4,727.9L871.5,732L871.9,731.9L873.5,728.8L875.1,725.3L876,723.8L876.6,724.2L878.2,722.2L879.8,722.8L881.3,722.7L882.5,723.5L882.9,723.2L884.4,718.9L886,722.4L887.6,717.7L888.6,717.1L889.1,719.7L890,720.7L890.7,721.1L892.2,726.3L893.5,731.2L893.8,731.5L896.9,725.1L898.5,720.3L898.7,720.1L900.1,721.4L901.6,717.6L902,717.3L903.2,720.1L904.8,725.5L905.7,724.7L906.3,723.6L907.9,718.2L908.3,717.5L909.4,716.3L909.6,716.4L909.8,715.2L910.9,703.8L911,702.9L912.6,718.5L913.5,722.3L915.7,726.6L917,727.7L917.2,727.6L918.8,724.8L920.4,722.9L921.3,723.1L921.9,725.6L923.5,726.7L925,729.8L925.7,729.7L926.6,726.6L927.6,720.5L928.2,714.8L929.2,700.9L929.8,691.5L931,677.4L931.2,679L931.3,680.6L932.9,703.4L934.4,718.5L935.3,725.5L935.7,727.7L936,728.5L937,729.7L937.9,729.6L939.1,727.8L940.7,729.2L942,725.5L943.8,722.7L944.9,722.6L945.4,724.7L946.9,729.8L947.5,732.1L948.5,729.6L951,725.6L951.6,725.8L953.2,728.7L954.8,730.5L957.9,732.9L958.8,734.6L959.4,734.1L960,733L961,730.4L962.3,729.5L962.6,729L964.1,728.4L965,725.7L965.8,723.7L967.2,727.7L968.8,733.3L970,736.2L970.4,735.7L971.9,732.5L973.5,733.1L975.3,728.3L976.6,728.9L978.2,732.6L979.7,736.4L980.6,733.5L981.3,731.8L982.9,726.1L983,725.6L984.4,728.9L985.8,733.5L986,733.7L987.6,731.4L989.1,733.1L991.9,737.9L992.2,737.3L993.8,732.1L994.5,730.3L995.4,727.5L997,725.5L998.5,729L1000.1,730.8L1001.6,734.3L1003.2,735.8L1004.8,733L1006.3,731.9L1007.9,730.2L1009.3,726.2L1009.4,726.4L1011,726.6L1012,729.3L1012.6,728.9L1014.1,726L1015.4,726.5L1015.7,726.4L1017.2,727.4L1018.8,727.7L1018.9,728.1L1020.4,727.6L1020.6,727.7L1021.9,731.2L1023.5,737.1L1024,737.9L1025.1,735L1026.6,729.8L1027.6,727.5L1028.2,726.7L1029.3,722L1029.8,719.6L1031.3,718.7L1032,716.6L1032.9,722L1034,731.5L1034.5,734.3L1036,729L1037.6,724.4L1038,722.9L1039.1,721.5L1040.7,724.1L1042.2,727.6L1043.8,729.9L1045.4,734.5L1045.9,735L1046.7,730.5L1046.9,729L1048.5,723.5L1050.1,725.8L1051.6,725.3L1052.8,728.9L1053.2,730.5L1054.8,732L1056.3,736.4L1057,738L1057.9,736.9L1059.4,730L1061,729.3L1062.6,724.1L1064,717.6L1064.1,717.6L1065.7,725L1067.2,731.2L1067.6,731.8L1068.8,729.8L1070.4,727.5L1071.9,721.5L1072.5,721.1L1073.5,725.2L1075.1,726.5L1075.5,727.9L1076.6,730.8L1078.2,732.8L1079,735.7L1079.8,734.7L1081.3,731.6L1082.9,729.8L1084.4,725.8L1085,725.8L1086,729.9L1087.6,733.4L1089.1,735.1L1089.4,736L1090.3,733.7L1090.7,732.4L1092.2,733.1L1093.8,726.3L1094.6,723.7L1095.4,725.7L1096.9,727.6L1097.2,728.2L1098.5,731.7L1099,731.7L1100.1,732L1101.6,735.7L1103.2,731.7L1104.2,728.6L1105,724.3L1106.3,728L1107.9,733.7L1109.4,737.3L1111,738.9L1111.2,739.4L1112,737.5L1112.6,736.4L1114.1,734.7L1115.7,726.9L1117.3,723.6L1118,729.1L1118.8,733.4L1119,734.3L1120.4,729L1121,727.2L1121.9,726L1123.5,719.4L1124,716L1124.2,714.8L1125.1,717.4L1126.6,726.8L1128.2,729L1128.6,730.7L1130,732.9L1131.3,735.8L1132.9,740.4L1133.8,741.7L1134.4,740.6L1136,736.5L1137.3,735.9L1137.6,736.1L1140,739.1L1140.7,739.7L1142.2,741.5L1144,741.1L1145.4,738.7L1148.5,733L1149,732.6L1150.1,733.8L1153.2,738.8L1154.8,740.2L1156.8,740.3L1157.9,741.4L1159.4,742.1L1160.8,743.3L1162.7,743.1L1164.1,743.2L1165.7,743.7L1167.2,743.1L1168.8,743.2L1170.4,742.6L1175.1,742.1L1176.6,741.2L1178.2,740.8L1179.5,739.9L1180,739.9L1181.3,740.6L1182.9,739.8L1184.4,740.3L1186,738.2L1187.6,737.9L1189.1,738.5L1190.7,735.3L1192.4,735.2L1195.4,738.2L1197.3,738.2L1201.6,740.1L1203.3,739.3L1204.8,738.8L1206.3,739.5L1207.9,738.5L1209.4,739.6L1211,738.7L1212.6,738.7L1214,738.4L1217.2,741.4L1218.8,744L1219,744.2L1221.9,744.5L1223.5,744.4L1226.6,744.4L1228.2,745L1229.8,745L1232,745.6L1234.4,745L1237.6,744.2L1239.1,743.9L1240.7,743.1L1243.8,743.1L1245.4,742.6L1248.8,742.8L1250.1,742.6L1251.6,743L1253.2,742.2L1254.8,743.1L1256.3,742.2L1257.9,742.1L1259.6,742.5L1261,742.2L1262.6,742.3L1264.1,743.1L1265.7,743.5L1273.5,743.2L1275.1,743L1276.6,743.9L1278.2,743.9L1281.4,743.5L1282.9,743.7L1284.4,743.6L1286,742.9L1287.6,742L1289.1,742.6L1290,742.4L1290.7,742L1292.2,741.9L1293.8,740.7L1295.4,738.5L1296.9,737.3L1298,737.4L1298.5,737.8L1300.1,737.6L1303.2,739.8L1304.8,740.1L1306,741L1307.9,739.9L1309.4,737.5L1312,735.3L1312.6,733.8L1314.2,732.1L1315,728.8L1315.7,730.2L1316.5,733.2L1317,735.7L1317.2,736.5L1318.8,736.7L1320.4,738.6L1322,740.8L1323.5,738.7L1325.1,737.8L1326.6,736.3L1328.2,731.9L1329.8,731.3L1331,730.1L1332.9,731.1L1336,733.9L1336.8,734L1339.1,736.4L1340.7,740L1341,740.3L1342.2,740.5L1343.8,740L1345.4,741.2L1346.9,740.7L1351.6,741.8L1353.2,742.5L1353.6,742.5L1354.8,741.9L1356.3,742.1L1357.9,740.7L1359.4,740.8L1361,740.5L1361.5,740.1L1362.6,738.9L1364.1,739.4L1365.4,739L1365.7,739.1L1367.2,738.3L1368.8,739.5L1370.4,739.2L1371.9,739.8L1373.5,739.8L1375.1,740.8L1376.6,740.9L1378.2,741.9L1379.8,741.1L1381.3,742.1L1382.9,742.5L1384.4,742.3L1386,743.1L1387.6,743L1390.7,743.6L1392.2,743.7L1393.8,744.2L1395.4,744.2L1396.9,743.6L1398.5,744.1L1400.1,743.7L1403.2,744L1404.8,743.6L1407.9,744.5L1411,743.8L1412.6,744.2L1417.2,743.1L1418.8,743.2L1423.5,742.8L1425.1,743.4L1426.7,743.2L1428.7,742.7L1430.7,742.7L1430.7,750.4Z"/><path fill="#7DF5E0" d="M161,750.4L161,750.4L180,750L187.6,748L190.7,747.6L192.2,747.7L193.8,747.4L196.9,747.2L198.5,746.8L200.5,746.6L201.6,745L203.4,742.9L204.8,744.8L206.3,746.6L207.9,747.1L215.7,747.4L217.2,747.7L218.8,747.5L220.4,747.9L226.6,747.9L228.2,748.2L232,748.2L234.4,749L236,749.3L243.8,749.3L247,749.2L248.5,748.2L250.1,746.6L253.2,744.2L256.3,742.1L257.9,740.6L259.4,738.1L261,737.6L262.6,735.2L264.1,732.2L264.5,732L265.7,729.6L267.2,727.3L268.8,722.2L269,722L270.4,701.6L271.5,687L271.9,676.8L273.6,640L274.3,560L275,512.9L275.2,497L276.1,560L276.6,608.5L276.9,640L278.2,669L278.4,673L279.8,666L281.3,694.2L282,704.5L282.9,713.2L284.5,725L286,710.2L287.2,700L287.6,695.5L288,690.5L289.1,706L289.7,715L290.7,709L292.2,702.6L293.7,695L294,695.7L295.4,702.7L295.8,704L296.9,704.1L298.5,698.4L299.3,699L300.1,700L301.6,704.5L303.2,710.2L304.5,716.7L304.8,716L306.3,715.4L307.9,716.3L308,716.1L309.8,711.5L311,717.3L311.5,720L313.3,716.7L314.1,721.1L315.7,725.5L316.7,730.6L317.2,730.8L318.8,733.6L320.4,733.1L321.9,735.3L323.5,735.6L323.7,735.8L325.1,735.7L327,736.7L328.2,732.1L329.8,724.2L330.7,721L331.3,722.1L332.9,722.9L334,722L334.4,722.9L336,729L337.6,732L339.1,726.4L340.2,724.5L340.7,725.5L342.9,733L343.8,730.6L345.4,726.7L346.9,720.5L347.2,720L348.5,717L350.1,718L352.4,711.5L353.2,711.6L354.8,713.4L356.3,718.9L357.7,720L359.4,709.1L360.3,704.8L361,702L362,697.5L362.6,698.3L364.1,702.1L365.5,704.5L365.7,705L367.2,706.4L368.8,715.4L370.7,716.7L371.9,712.2L373.3,711.5L373.5,712L374.2,713.1L375.1,713.3L376.6,714.8L377.7,716.7L378.2,715.6L379.8,709.4L381.3,710.7L382.9,701L384.4,697.3L386,695.1L386.4,695L387.6,700.4L389.1,702.1L390.7,707.8L391.6,711.5L392.2,710.5L394.2,704.5L395,707.3L395.4,708.5L396.9,715L398.5,693.7L400.1,676.7L401.2,662.7L401.6,667.5L403.2,684.1L404.7,704.5L406.4,708L407.9,699L409.4,692.3L410,696.7L411,699.8L412.6,715.3L413.5,721.9L414.3,727L415.7,714.9L417.3,696.7L417.8,698.9L418.8,701.1L420.5,708L421.9,711.4L424,718.5L425.7,725.4L426.6,723.3L428.2,717.3L429.8,712.1L431.3,708.7L431.8,708L432.6,711.7L432.9,713.6L434.4,714.4L436.1,722L437.9,711.5L439.1,713.4L440.7,717.9L442.2,719.4L444,725.4L444.8,725.3L445.4,726L446.9,725.2L448.5,723.4L450.1,724.5L451.8,722.8L453.2,720L454.8,720.2L456.3,715.9L457.9,711L459.4,708.4L460.5,708.8L462.6,712.8L464.1,717.5L465.7,720L467.2,715.7L468.8,714.2L470.4,712.2L471.8,706L471.9,706.4L473.5,708.3L474.4,712.3L475.1,714.7L476.2,716.7L476.6,711L478.2,692.4L479.8,669L480.5,661L481.3,677.9L482.3,697.5L482.9,696.9L484,692L484.4,693.6L486,703.9L486.6,705.9L487.6,709.6L489.1,717.6L490.7,727.5L491,728.9L492.2,724.1L493.8,716.4L495.3,711.5L496.9,696.6L497.6,688.8L498.5,698.7L499.7,715L500.1,717.2L501.6,722.3L502.3,725.4L504.8,720.1L505,720L507.5,722.1L507.9,722.6L509.4,727.5L512.6,730.3L514.1,733.6L514.5,734L515.7,734L517.2,735.2L518.8,735.2L520.4,735.7L521.9,737.4L523.5,735.7L525.1,737.7L526.6,738.6L528.2,737.6L529.8,738.7L532.9,739.6L534.4,739.8L536,740.9L537.6,740.2L539.1,741.4L540.7,740.9L544,742L545.4,741.6L546.9,741.8L548.5,740.7L550.1,741.4L551.6,739.8L553.2,740.6L554.8,739.4L556.3,738.8L559.4,739.8L561,738L562.6,738.7L564.1,738.4L565.7,738.8L567.2,738L568.5,737.6L568.8,736.7L570.4,729.8L572,725.5L573.5,712.8L575.1,704.8L575.4,702.9L576.6,704.4L578.2,707L579.8,708L582.4,713.3L582.9,710.5L584.2,706.3L586,713.3L587.6,716.7L589.1,717.6L589.4,718.7L590.7,715.6L592.9,711.9L593.8,711.1L595.4,712.4L596.9,711.6L598,712L598.5,708.2L600,700.8L600.7,694.5L601.6,689.8L602.4,682.4L603.2,682.1L604.8,687.3L606.3,681.4L606.8,682.4L607.9,675L609.4,663.3L610.3,649.5L611,649.2L612.6,658.1L612.9,658.2L614.1,645.8L615.7,632.2L617,616.9L617.2,615.5L617.8,613L618.8,646.9L619,652.8L620,679.3L620.7,686L621.6,688.9L621.9,685.5L623.5,673.1L624.4,666.5L625.1,671.2L626,674.1L626.5,675.4L626.6,676.2L628.2,686.9L629.9,700.8L631.3,693.8L632.5,685.7L632.9,688.6L634.4,697.6L635.3,703.9L636,697.2L637.6,676.2L639.1,664.2L639.7,659.8L640,663.3L640.7,671.9L641.6,680.8L641.9,684.1L642.2,678.8L643.8,660.2L645.2,636.9L645.4,634.4L646.8,622.4L646.9,621.2L648.5,608.3L650,592.2L650.1,590.9L651,576.3L651.6,577.3L652,577.1L653.2,559L654,550.2L654.8,539.9L655.2,533.9L656.3,522.1L657,517.5L657.9,513.7L659.4,508.2L659.5,507L661,517.4L662,528.2L662.7,536.6L663.8,556.4L664.8,596.3L665,603.6L666,610.9L667,618.8L667.2,619L668,621.6L668.8,620.9L670.4,623.2L671.9,626.3L672,626.7L672.5,630.8L673.5,646.1L674.7,657.5L675.8,661.9L676.6,659.1L678,651.4L678.2,650.8L679,652.1L679.8,656.2L681.3,657.2L682.9,666.3L683.5,669.5L684.4,670L685.7,673.3L686,672L687.6,663.4L689.1,655.6L690.7,643.8L691,641.3L692.2,633.7L693.4,624.4L693.8,626.2L694,628L695.4,643.8L696.9,658.8L697.7,667.5L698.5,665.7L698.8,665.4L700.1,657.9L701.6,642.3L702,641.1L703.2,645.5L704.8,647.6L706.3,642.2L706.5,643.3L707.9,661.3L709.4,668.2L711,684.1L712,690.9L713,698.6L714.1,688.2L715.7,677.8L717.2,675.1L717.4,674.6L718.5,674.1L718.8,673L720.4,672.2L721.8,666.3L721.9,666.4L723,665.9L723.5,663.4L725,663.1L725.1,661.2L726.6,630.8L727.3,618.5L728.2,626.3L729,630L729.8,630.6L731.3,631.1L732.9,621.6L733,621.9L733.9,623.1L734.4,626.4L736,632.5L737.6,640.7L739.1,644.1L739.3,645.5L740.7,651.1L742.2,657.6L743,657L743.7,656.1L743.8,655.3L745.4,654L746.9,651.2L747,650.6L748,649.3L748.5,648L749,642.6L750.1,634.9L750.3,559L750.6,506.6L751,473.5L751.5,435.2L751.6,429.4L752,404.9L753.2,369.2L753.5,361.6L754.8,388.7L755.3,402.6L756,422.6L756.2,427.4L756.3,431L756.5,437.6L757.1,467.2L757.6,454.9L757.8,447.1L757.9,444.1L758.5,422.1L758.9,408.3L759.4,413.7L760.5,441.8L761,469.8L761.4,486.4L761.7,506.5L762,519.8L762.5,544.7L762.6,545.5L763,550.8L764,555.2L764.1,555.9L764.5,558.1L765.7,566.8L767,574.9L767.2,580L767.4,585.5L768,601.1L768.5,579.9L769.2,551.6L769.8,545L770,550L770.3,556.7L770.4,562.7L771,594.6L771.5,623.1L771.9,642.9L772.3,662.4L773,669.5L774.5,676.7L775,677.1L776.6,667.9L778.2,656.5L778.4,655.9L779.8,666.4L780.5,669.4L781.3,672.6L781.6,674.1L783,666.6L784.2,648.5L784.5,640.3L786,594.2L786.5,582.7L787.6,605.6L788,609.8L789,627.1L789.4,631L790.3,648.4L790.7,652L790.9,653.4L792.6,649L793.8,671.8L794,675L795.4,693.1L796,703.1L796.9,705.8L798,707.8L798.5,708.9L799,710.8L800.1,712L806.3,722.4L808,725.6L809.4,727.5L811,729.2L812.6,731.2L814.1,732.1L815.6,733.5L818.8,729.4L819,728.9L821,729.4L821.9,727.1L823.5,721.2L825.1,716.6L825.5,715.7L826.6,723.1L827.7,728.7L828.2,729.5L829.9,728.6L831.3,728.2L834,729.8L836,726.3L837.6,724.3L839.1,725.4L840.7,728.6L842.2,726.5L843.8,731.2L845.4,730.6L846.9,734.1L847.4,734.9L848.5,736.1L850.1,727.7L851.6,717L852,713.6L853.2,714.1L854,717.6L854.8,720.5L856.3,722.5L857.3,723.1L857.9,722.1L859.4,722.1L859.5,722L860.5,725.3L861,726L861.6,727.1L862.6,725.6L864.1,720.7L865,720.3L865.7,721L867.2,723.9L868.8,728.4L870.4,727.9L871.5,732L871.9,731.9L873.5,728.8L875.1,725.3L876,723.8L876.6,724.2L878.2,722.2L879.8,722.8L881.3,722.7L882.5,723.5L882.9,723.2L884.4,718.9L886,722.4L887.6,717.7L888.6,717.1L889.1,719.7L890,720.7L890.7,721.1L892.2,726.3L893.5,731.2L893.8,731.5L896.9,725.1L898.5,720.3L898.7,720.1L900.1,721.4L901.6,717.6L902,717.3L903.2,720.1L904.8,725.5L905.7,724.7L906.3,723.6L907.9,718.2L908.3,717.5L909.4,716.3L909.6,716.4L909.8,715.2L910.9,703.8L911,702.9L912.6,718.5L913.5,722.3L915.7,726.6L917,727.7L917.2,727.6L918.8,724.8L920.4,722.9L921.3,723.1L921.9,725.6L923.5,726.7L925,729.8L925.7,729.7L926.6,726.6L927.6,720.5L928.2,714.8L929.2,700.9L929.8,691.5L931,677.4L931.2,679L931.3,680.6L932.9,703.4L934.4,718.5L935.3,725.5L935.7,727.7L936,728.5L937,729.7L937.9,729.6L939.1,727.8L940.7,729.2L942,725.5L943.8,722.7L944.9,722.6L945.4,724.7L946.9,729.8L947.5,732.1L948.5,729.6L951,725.6L951.6,725.8L953.2,728.7L954.8,730.5L957.9,732.9L958.8,734.6L959.4,734.1L960,733L961,730.4L962.3,729.6L962.6,729L964.1,728.4L965,725.7L965.8,723.8L967.2,727.7L968.8,733.4L970,736.2L970.4,735.8L971.9,732.7L973.5,733.2L975.3,728.5L976.6,729.1L979.7,736.5L980.6,733.7L981.3,732L982.9,726.4L983,725.9L984.4,729.2L985.8,733.8L986,733.9L987.6,731.7L989.1,733.3L991.9,738.1L992.2,737.5L993.8,732.4L994.5,730.6L995.4,727.9L997,726.1L998.5,729.5L1000.1,731.2L1001.6,734.6L1003.2,736L1004.8,733.4L1006.3,732.4L1007.9,730.8L1009.3,727L1009.4,727.2L1011,727.4L1012,730L1012.6,729.7L1014.1,726.9L1015.4,727.5L1015.7,727.4L1017.2,728.4L1018.8,728.7L1018.9,729L1020.4,728.7L1020.6,728.8L1021.9,732.1L1023.5,737.5L1024,738.3L1025.1,735.6L1026.6,730.8L1027.6,728.6L1028.2,727.8L1029.3,723.6L1029.8,721.4L1031.3,720.6L1032,718.8L1032.9,723.6L1034,732.4L1034.5,735L1036,730.2L1037.6,726.2L1038,724.8L1039.1,723.6L1040.7,726L1042.2,729.1L1043.8,731.2L1045.4,735.5L1045.9,736L1046.7,731.9L1046.9,730.6L1048.5,725.9L1050.1,727.9L1051.6,727.5L1052.8,730.7L1053.2,732.1L1054.8,733.3L1056.3,737.3L1057,738.7L1057.9,737.7L1059.4,731.8L1061,731.3L1062.6,726.7L1064,721.3L1064.1,721.3L1065.7,727.7L1067.2,733.1L1067.6,733.6L1068.8,731.9L1070.4,730L1071.9,724.9L1072.5,724.6L1073.5,728.1L1075.1,729.3L1075.5,730.5L1076.6,732.9L1078.2,734.7L1079,737.1L1079.8,736.2L1081.6,733.4L1082.9,732.3L1084.4,729L1085,729.1L1086,732.5L1087.6,735.4L1089.1,736.8L1089.4,737.5L1090.3,735.7L1090.7,734.7L1092.2,735.2L1093.8,729.7L1094.6,727.7L1095.4,729.4L1097.2,731.3L1098.5,734.1L1100.1,734.5L1101.6,737.5L1103.2,734.4L1104.2,731.9L1105,728.5L1106.3,731.6L1107.9,736.1L1109.4,739L1111,740.3L1111.2,740.8L1112,739.2L1112.6,738.2L1114.1,736.9L1115.7,731L1117.3,728.5L1118,732.7L1118.8,736.1L1119,736.8L1120.4,732.7L1121,731.4L1121.9,730.5L1123.5,725.7L1124.2,722.3L1125.1,724.3L1126.6,731.1L1128.2,733.2L1128.6,734.3L1130,735.9L1131.3,738.4L1132.9,741.8L1133.8,742.9L1134.4,742.1L1136,739L1137.3,738.7L1140.7,741.6L1142.2,743.1L1144,743.1L1146.9,739.4L1148.5,737.7L1149,737.4L1150.1,738.4L1153.2,741.6L1154.8,742.5L1156.8,742.5L1157.9,743.3L1159.4,743.6L1161,744.6L1164.1,744.5L1165.7,744.9L1167.2,744.4L1168.8,744.5L1170.4,744.1L1175.1,743.9L1176.6,743.3L1178.2,743.1L1180,742.6L1181.3,743L1182.9,742.5L1184.4,742.9L1186,741.7L1188,741.7L1189.1,742.2L1190.7,741.1L1192.4,741.9L1195.4,744.1L1198.5,745.5L1200.1,745.9L1206.3,746L1207.9,745.6L1209.4,745.9L1212.6,745.6L1214.1,745.9L1215.7,745.8L1219,746.8L1221.9,746.8L1223.5,746.5L1226.6,746.7L1228.2,747.1L1229.8,747L1232,747.1L1234.4,746.7L1245.4,746.4L1246.9,746.5L1250.1,746.2L1254.8,746.5L1257.9,746.3L1259.6,746.5L1261,746.2L1267.2,746.6L1273.5,746.5L1275.1,746.2L1276.6,746.7L1284.4,746.9L1287.6,746.3L1292.2,746.3L1295.4,745.7L1296.9,745.1L1298.5,745.3L1300.1,744.9L1301.6,744.8L1303.2,745.3L1304.8,745.3L1306.3,745.5L1307.9,744.8L1309.4,744.5L1314.2,742.8L1315,742.1L1316.5,742.9L1317.2,743.8L1318.8,743.5L1320.4,744.5L1322,744.6L1323.5,743.8L1326.6,743.9L1328.2,742.8L1331.3,742.5L1332.9,741.8L1334.4,742.8L1336.8,742.8L1337.6,743.1L1339.1,743.5L1341,744.6L1342.2,745L1343.8,745L1345.4,745.8L1346.9,745.5L1351.6,746.3L1353.6,746.3L1354.8,746.1L1356.3,746.4L1357.9,746L1361.5,746.1L1362.6,745.9L1364.1,746L1367.2,745.7L1370.4,745.8L1371.9,746.2L1373.5,746.1L1375.1,746.3L1376.6,746.1L1378.2,746.5L1379.8,746.2L1382.9,746.6L1384.4,746.5L1386,746.7L1387.6,746.5L1395.4,747.1L1396.9,746.8L1398.5,746.9L1404.8,746.6L1409.4,746.9L1411,746.7L1412.6,747L1418.8,746.8L1420.8,746.6L1426.7,746.9L1430.7,746.7L1430.7,750.4Z"/><path fill="#B4581C" d="M161,750.4L161,750.4L180,750L187.6,748.1L190.7,747.7L192.2,747.8L193.8,747.5L196.9,747.3L200.5,746.7L201.6,745.2L203.4,743.2L204.8,745L206.3,746.7L207.9,747.2L215.7,747.5L217.2,747.8L218.8,747.6L220.4,748L226.6,748L228.2,748.3L232,748.3L234.4,749.1L236,749.3L243.8,749.4L247,749.2L248.5,748.3L250.1,746.8L253.2,744.4L256.3,742.4L257.9,740.9L259.4,738.5L261,738L262.6,735.8L264.1,732.8L264.5,732.6L265.7,730.3L267.2,728.1L268.8,723.2L269,723L270.4,702.9L271.5,688.3L271.9,678.1L273.6,641.3L274.3,561.3L275,514.2L275.2,498.3L276.1,561.3L276.6,609.8L276.9,641.3L278.2,670.3L278.4,674.3L279.8,667.3L281.3,695.5L282,705.8L282.9,714.5L284.5,725.9L286,711.5L287.2,701.3L287.6,696.8L288,691.8L289.1,707.3L289.7,716.2L290.7,710.3L292.2,703.9L293.7,696.3L294,697L295.4,704L295.8,705.3L296.9,705.4L298.5,699.7L299.3,700.3L300.1,701.3L301.6,705.8L303.2,711.5L304.5,717.9L304.8,717.2L306.3,716.7L307.9,717.5L308,717.3L309.8,712.8L311,718.4L311.5,721.1L313.3,717.9L314.1,722.1L315.7,726.3L316.7,731.3L317.2,731.5L318.8,734.2L320.4,733.7L321.9,735.8L323.5,736.1L323.7,736.3L325.1,736.2L327,737.2L328.2,732.7L329.8,725.1L330.7,722L331.3,723.1L332.9,723.9L334,723L334.4,723.8L336,729.7L337.6,732.6L339.1,727.2L340.2,725.4L340.7,726.4L342.9,733.6L343.8,731.3L345.4,727.5L346.9,721.5L347.2,721.1L348.5,718.2L350.1,719.1L352.4,712.8L353.2,712.9L354.8,714.7L356.3,720L357.7,721.1L359.4,710.4L360.3,706.1L361,703.3L362,698.8L362.6,699.6L364.1,703.4L365.5,705.8L365.7,706.3L367.2,707.7L368.8,716.6L370.7,717.9L371.9,713.5L373.3,712.8L373.5,713.3L374.2,714.4L375.1,714.6L376.6,716.1L377.7,717.9L378.2,716.8L379.8,710.7L381.3,712L382.9,702.3L384.4,698.6L386,696.4L386.4,696.3L387.6,701.7L389.1,703.4L390.7,709.1L391.6,712.8L392.2,711.8L394.2,705.8L395,708.6L395.4,709.8L396.9,716.2L398.5,695L400.1,678L401.2,664L401.6,668.8L403.2,685.4L404.7,705.8L406.4,709.3L407.9,700.3L409.4,693.6L410,698L411,701.1L412.6,716.5L413.5,722.9L414.3,727.8L415.7,716.1L417.3,698L417.8,700.2L418.8,702.4L420.5,709.3L421.9,712.7L424,719.6L425.7,726.3L426.6,724.3L428.2,718.4L429.8,713.4L431.3,710L431.8,709.3L432.6,713L432.9,714.9L434.4,715.6L436.1,723L437.9,712.8L439.1,714.7L440.7,719L442.2,720.5L444,726.3L444.8,726.2L445.4,726.8L446.9,726.1L448.5,724.4L450.1,725.4L451.8,723.8L453.2,721.1L454.8,721.3L456.3,717.1L457.9,712.3L459.4,709.7L460.5,710.1L462.6,714.1L464.1,718.6L465.7,721.1L467.2,716.9L468.8,715.4L470.4,713.5L471.8,707.3L471.9,707.7L473.5,709.6L474.4,713.6L475.1,716L476.2,717.9L476.6,712.3L478.2,693.7L479.8,670.3L480.5,662.3L481.3,679.2L482.3,698.8L482.9,698.2L484,693.3L484.4,694.9L486,705.2L486.6,707.2L487.6,710.9L489.1,718.7L490.7,728.3L491,729.7L492.2,725.1L493.8,717.6L495.3,712.8L496.9,697.9L497.6,690.1L498.5,700L499.7,716.2L500.1,718.4L501.6,723.3L502.3,726.3L504.8,721.2L505,721.1L507.5,723.1L507.9,723.6L509.4,728.3L512.6,731L514.1,734.2L514.5,734.6L515.7,734.6L517.2,735.7L518.8,735.7L520.4,736.2L521.9,737.9L523.5,736.2L525.1,738.1L526.6,739L528.2,738L529.8,739.1L532.9,740L534.4,740.2L536,741.2L537.6,740.5L539.1,741.7L540.7,741.3L544,742.3L545.4,741.9L546.9,742.1L548.5,741.1L550.1,741.7L551.6,740.2L553.2,740.9L554.8,739.7L556.3,739.2L559.4,740.2L561,738.5L562.6,739.1L564.1,738.8L565.7,739.2L567.2,738.4L568.5,738L568.8,737.1L570.4,730.4L572,726.2L573.5,713.9L575.1,705.9L575.4,703.9L576.6,705.4L578.2,708L579.8,709L582.4,714.2L582.9,711.4L584.2,707.2L586,714.2L587.6,717.5L589.1,718.4L589.4,719.4L590.7,716.4L592.9,712.7L593.8,711.9L595.4,713.1L596.9,712.3L598,712.7L598.5,708.9L600,701.5L600.7,695.2L601.6,690.5L602.4,683L603.2,682.7L604.8,687.9L606.3,682L606.8,683L607.9,675.6L609.4,663.9L610.3,650L611,649.7L612.6,658.6L612.9,658.7L614.1,646.3L615.7,632.7L617,617.4L617.2,616L617.8,613.4L618.8,647.4L619,653.2L620,684.7L620.4,687.4L620.7,688.8L621.6,688.9L621.9,685.5L623.5,673.4L624.4,667.2L625.1,672.1L626,675.3L626.5,676.9L626.6,677.7L628.2,687.8L629.9,701.2L631.3,693.8L632.5,686L632.9,688.8L634.4,698.1L635.3,704.5L636,697.9L637.6,677.1L639.1,664.5L639.7,660.1L640.7,672.6L641.6,681.3L641.9,684.5L642.2,679.2L643.8,660.9L645.2,637.5L645.4,635L646.8,622.4L646.9,621.2L648.5,608.6L650,593.3L650.1,592L651,577.6L651.6,578L652,577.4L653.2,559.3L654,550.8L654.8,540.9L655.2,535.2L656.3,523.7L657,519.6L659.4,511.2L659.5,510L661,519.9L662,530.2L662.7,538.5L663.8,557.7L664.8,598.1L665,605.5L666,612.8L667,620.4L667.2,620.6L668,623.2L668.8,622.8L670.4,624.9L671.9,627.8L672,628.1L672.5,632.2L673.5,647.2L674.7,658.6L675.8,663.4L676.6,660.6L678,652.6L678.2,651.9L679,653.2L679.8,657.4L681.3,658.2L682.9,667.3L683.5,670.5L684.4,671.1L685.7,674.8L686,673.5L687.6,664.6L689.1,656.8L690.7,644.8L691,642.3L692.2,635L693.4,625.7L693.8,627.5L694,629.4L695.4,645.4L696.9,660.3L697.7,669L698.5,667.1L698.8,666.7L700.1,659.3L701.6,643.6L702,642.4L703.2,646.9L704.8,649L706.3,643.6L706.5,644.7L707.9,662.5L709.4,669.4L711,685L712,691.8L713,699.4L714.1,689.3L715.7,679.3L717.2,676.3L717.4,675.8L718.5,675.1L718.8,674L720.4,673.1L721.8,667.4L721.9,667.5L723,666.9L723.5,664.3L725,663.4L725.1,661.6L726.6,632.3L727.3,620.7L728.2,628.2L729,631.6L729.8,632.1L731.3,632.5L732.9,623.2L733,623.5L733.9,624.8L734.4,628.2L736,634.1L737.6,642.1L739.1,645.8L739.3,647.2L740.7,652.9L742.2,659.3L743,658.7L743.7,657.8L743.8,657L745.4,655.7L746.9,652.9L747,652.3L748,650.7L748.5,649.3L749,643.9L750.1,635.9L750.3,562.3L750.6,509.7L751,477.2L751.5,439.3L751.6,433.6L752,409.5L753.2,375.2L753.5,367.6L754.8,393.6L755.3,407.2L756,426.6L756.2,431.3L756.3,434.7L756.5,441L757.1,469.4L757.6,458.1L757.8,450.8L757.9,447.9L758.5,426.7L758.9,413.6L759.4,418.4L760.5,446L761,474.5L761.4,491.1L761.7,510.9L762,523.6L762.5,547.5L762.6,548.4L763,554L764,558.6L764.1,559.3L764.5,561.5L765.7,570L767,578.3L767.2,583.2L767.4,588.4L768,603.3L768.5,583.7L769.2,557.4L769.8,551.5L770,556.2L770.3,562.7L770.4,568.4L771,598.8L771.5,625.9L771.9,644.8L772.3,663.4L773,670.7L774.5,678.1L775,678.7L776.6,669.6L778.2,658.4L778.4,657.8L779.8,668.1L780.5,671L781.3,674.1L781.6,675.7L783,667.7L784.2,649.8L784.5,641.9L786,596.9L786.5,585.9L787.6,608.6L788,612.7L789,629.5L789.4,633.2L790.3,649.7L790.7,653.2L790.9,654.6L792.6,651L793.8,673.4L794,676.5L795.4,694.2L796,704L796.9,706.7L798,708.7L798.5,709.8L799,711.8L800.1,712.8L806.3,722.9L808,726L809.4,727.9L812.6,731.5L814.1,732.3L815.6,733.7L818.8,729.6L819,729.2L820.4,729.4L821,729.6L821.9,727.4L823.5,721.6L825.1,717.1L825.5,716.3L826.6,723.5L827.7,729L828.2,729.8L829.9,728.9L831.3,728.5L834,730L836.4,726.2L837.6,724.7L839.1,725.8L840.7,728.9L842.2,726.9L843.8,731.4L845.4,730.9L846.9,734.3L847.4,735.1L848.5,736.3L850.1,728.1L851.6,717.5L852,714.1L853.2,714.6L854,718.1L854.8,720.9L856.3,723L857.3,723.5L857.9,722.5L859.4,722.6L859.5,722.4L860.5,725.6L861,726.3L861.6,727.5L862.6,726L864.1,721.1L865,720.7L865.7,721.5L867.2,724.4L868.8,728.7L870.4,728.2L871.5,732.3L871.9,732.2L873.5,729.1L875.1,725.6L876,724.1L876.6,724.6L878.2,722.7L879.8,723.3L881.3,723.1L882.5,723.9L882.9,723.6L884.4,719.4L886,722.8L887.6,718.2L888.6,717.6L889.1,720.1L890,721.1L890.7,721.5L892.2,726.6L893.5,731.4L893.8,731.7L896.9,725.4L898.5,720.7L898.7,720.5L900.1,721.8L901.6,718.1L902,717.8L903.2,720.5L904.8,725.8L905.7,725L906.3,723.9L907.9,718.6L908.3,718L909.4,716.8L909.6,716.9L909.8,715.7L910.9,704.6L911,703.8L912.6,718.9L913.5,722.6L915.7,726.9L917,728L917.2,727.9L918.8,725.1L920.4,723.3L921.3,723.4L921.9,725.9L923.5,727L925,730.1L925.7,730L926.6,726.9L927.6,720.9L928.2,715.3L929.2,701.7L929.8,692.4L931,678.6L931.2,680L931.3,681.6L932.9,704L934.4,718.9L935.3,725.8L935.7,728.1L936,728.8L937,730L937.9,729.9L939.1,728.1L940.7,729.5L942,725.8L943.8,723.1L944.9,723L945.4,725.1L946.9,730L947.5,732.4L948.5,729.9L951,726L951.6,726.1L953.2,729L954.8,730.8L956.3,732L957.9,733.1L958.8,734.8L959.4,734.3L960,733.2L961,730.7L962.3,729.8L962.6,729.3L964.1,728.7L965,726.1L965.8,724.2L967.2,728L968.8,733.6L970,736.4L970.4,736L971.9,732.9L973.5,733.4L975.3,728.8L976.6,729.4L979.7,736.7L980.6,733.9L981.3,732.2L982.9,726.8L983,726.3L984.4,729.4L985.8,734L986,734.1L987.6,731.9L989.1,733.6L991.9,738.2L992.2,737.6L993.8,732.6L994.5,730.9L995.4,728.3L997,726.4L998.5,729.8L1000.1,731.5L1001.6,734.8L1003.2,736.1L1004.8,733.7L1006.3,732.6L1007.9,731.1L1009.3,727.4L1009.4,727.6L1011,727.8L1012,730.4L1012.6,730L1014.1,727.2L1015.4,727.8L1015.7,727.8L1017.2,728.8L1018.8,729.1L1018.9,729.4L1020.4,729.1L1020.6,729.2L1021.9,732.4L1023.5,737.7L1024,738.5L1025.1,735.8L1026.6,731.1L1027.6,728.9L1028.2,728.1L1029.3,724L1029.8,721.9L1031.3,721.2L1032,719.4L1032.9,724.1L1034,732.7L1034.5,735.2L1036,730.4L1037.6,726.7L1038,725.3L1039.1,724.1L1040.7,726.5L1042.2,729.5L1043.8,731.5L1045.4,735.7L1045.9,736.2L1046.7,732.2L1046.9,730.9L1048.5,726.4L1050.1,728.3L1051.6,727.9L1052.8,731L1053.2,732.4L1054.8,733.6L1056.3,737.5L1057,738.9L1057.9,737.9L1059.4,732.2L1061,731.6L1062.6,727.2L1064,722L1064.1,722L1065.7,728.2L1067.2,733.4L1067.6,733.9L1068.8,732.2L1070.4,730.4L1071.9,725.4L1072.5,725.1L1073.5,728.5L1075.1,729.8L1075.5,730.8L1076.6,733.3L1078.2,735L1079,737.3L1079.8,736.5L1081.6,733.7L1082.9,732.6L1084.4,729.5L1085,729.5L1086,732.8L1087.6,735.6L1089.1,737L1089.4,737.7L1090.3,735.9L1090.7,735L1092.2,735.5L1093.8,730.2L1094.6,728.3L1095.4,729.8L1097.2,731.7L1098.5,734.4L1100.1,734.8L1101.6,737.8L1103.2,734.7L1104.2,732.3L1105,728.9L1106.3,732.1L1107.9,736.4L1109.4,739.2L1111,740.5L1111.2,740.9L1112,739.4L1112.6,738.4L1114.1,737.2L1115.7,731.5L1117.3,729L1118,733.1L1118.8,736.4L1119,737.1L1120.4,733.1L1121,731.8L1121.9,731L1123.5,726.3L1124.2,723.1L1125.1,725L1126.6,731.5L1128.2,733.6L1128.6,734.7L1130,736.2L1131.3,738.6L1132.9,741.9L1133.8,743L1134.4,742.3L1136,739.2L1137.3,739L1140.7,741.8L1142.2,743.2L1144,743.3L1146.9,739.8L1148.5,738.1L1149,737.9L1153.2,741.9L1154.8,742.8L1156.8,742.7L1157.9,743.5L1159.4,743.7L1161,744.7L1164.1,744.6L1165.7,745L1167.2,744.6L1168.8,744.7L1170.4,744.3L1175.1,744.1L1176.6,743.5L1178.2,743.3L1180,742.9L1181.3,743.2L1182.9,742.8L1184.4,743.1L1186,742.1L1188,742L1189.1,742.5L1190.7,741.5L1192.4,742.3L1195.4,744.4L1198.5,745.7L1201.6,746.2L1206.3,746.1L1207.9,745.8L1211,746L1212.6,745.8L1214.1,746.1L1215.7,746L1219,746.9L1221.9,746.9L1223.5,746.5L1226.6,746.7L1228.2,747.1L1229.8,747L1232,747.2L1234.4,746.7L1245.4,746.5L1246.9,746.6L1250.1,746.4L1254.8,746.6L1257.9,746.4L1259.6,746.6L1261,746.3L1267.2,746.7L1273.5,746.6L1275.1,746.3L1276.6,746.7L1284.4,747L1288.3,746.5L1292.2,746.4L1295.4,745.9L1296.9,745.3L1298.5,745.5L1300.1,745.1L1301.6,744.9L1303.2,745.4L1304.8,745.4L1306.3,745.6L1307.9,744.9L1309.4,744.7L1314.2,743.1L1315,742.5L1316.5,743.2L1317.2,744L1318.8,743.7L1320.4,744.6L1322,744.7L1323.5,744L1326.6,744.1L1328.2,743.1L1331.3,742.9L1332.9,742.1L1334.4,743.1L1336,742.9L1336.8,743L1337.6,743.4L1339.1,743.7L1341,744.8L1342.2,745.1L1343.8,745.1L1345.4,745.9L1346.9,745.7L1351.6,746.4L1354.8,746.2L1356.3,746.5L1357.9,746.1L1361.5,746.3L1362.6,746.1L1364.1,746.2L1367.2,745.9L1370.4,746L1371.9,746.4L1375.1,746.4L1376.6,746.3L1378.2,746.6L1379.8,746.3L1382.9,746.7L1384.4,746.6L1386,746.8L1387.6,746.6L1395.4,747.2L1396.9,746.9L1398.5,747L1409.4,747L1411,746.8L1412.6,747.1L1418.8,746.9L1420.8,746.7L1426.7,747.1L1430.7,746.8L1430.7,750.4Z"/><path fill="#4472C4" d="M161,750.4L161,750.4L180,750L187.6,748.1L190.7,747.7L192.2,747.8L193.8,747.5L196.9,747.3L200.5,746.7L201.6,745.2L203.4,743.2L204.8,745L206.3,746.7L207.9,747.2L215.7,747.5L217.2,747.8L218.8,747.6L220.4,748L226.6,748L228.2,748.3L232,748.3L234.4,749.1L236,749.3L243.8,749.4L247,749.2L248.5,748.3L250.1,746.8L253.2,744.4L256.3,742.4L257.9,740.9L259.4,738.5L261,738L262.6,735.8L264.1,732.8L264.5,732.6L265.7,730.3L267.2,728.1L268.8,723.2L269,723L270.4,702.9L271.5,688.3L271.9,678.1L273.6,641.3L274.3,561.3L275,514.2L275.2,498.3L276.1,561.3L276.6,609.8L276.9,641.3L278.2,670.3L278.4,674.3L279.8,667.3L281.3,695.5L282,705.8L282.9,714.5L284.5,725.9L286,711.5L287.2,701.3L287.6,696.8L288,691.8L289.1,707.3L289.7,716.2L290.7,710.3L292.2,703.9L293.7,696.3L294,697L295.4,704L295.8,705.3L296.9,705.4L298.5,699.7L299.3,700.3L300.1,701.3L301.6,705.8L303.2,711.5L304.5,717.9L304.8,717.2L306.3,716.7L307.9,717.5L308,717.3L309.8,712.8L311,718.4L311.5,721.1L313.3,717.9L314.1,722.1L315.7,726.3L316.7,731.3L317.2,731.5L318.8,734.2L320.4,733.7L321.9,735.8L323.5,736.1L323.7,736.3L325.1,736.2L327,737.2L328.2,732.7L329.8,725.1L330.7,722L331.3,723.1L332.9,723.9L334,723L334.4,723.8L336,729.7L337.6,732.6L339.1,727.2L340.2,725.4L340.7,726.4L342.9,733.6L343.8,731.3L345.4,727.5L346.9,721.5L347.2,721.1L348.5,718.2L350.1,719.1L352.4,712.8L353.2,712.9L354.8,714.7L356.3,720L357.7,721.1L359.4,710.4L360.3,706.1L361,703.3L362,698.8L362.6,699.6L364.1,703.4L365.5,705.8L365.7,706.3L367.2,707.7L368.8,716.6L370.7,717.9L371.9,713.5L373.3,712.8L373.5,713.3L374.2,714.4L375.1,714.6L376.6,716.1L377.7,717.9L378.2,716.8L379.8,710.7L381.3,712L382.9,702.3L384.4,698.6L386,696.4L386.4,696.3L387.6,701.7L389.1,703.4L390.7,709.1L391.6,712.8L392.2,711.8L394.2,705.8L395,708.6L395.4,709.8L396.9,716.2L398.5,695L400.1,678L401.2,664L401.6,668.8L403.2,685.4L404.7,705.8L406.4,709.3L407.9,700.3L409.4,693.6L410,698L411,701.1L412.6,716.5L413.5,722.9L414.3,727.8L415.7,716.1L417.3,698L417.8,700.2L418.8,702.4L420.5,709.3L421.9,712.7L424,719.6L425.7,726.3L426.6,724.3L428.2,718.4L429.8,713.4L431.3,710L431.8,709.3L432.6,713L432.9,714.9L434.4,715.6L436.1,723L437.9,712.8L439.1,714.7L440.7,719L442.2,720.5L444,726.3L444.8,726.2L445.4,726.8L446.9,726.1L448.5,724.4L450.1,725.4L451.8,723.8L453.2,721.1L454.8,721.3L456.3,717.1L457.9,712.3L459.4,709.7L460.5,710.1L462.6,714.1L464.1,718.6L465.7,721.1L467.2,716.9L468.8,715.4L470.4,713.5L471.8,707.3L471.9,707.7L473.5,709.6L474.4,713.6L475.1,716L476.2,717.9L476.6,712.3L478.2,693.7L479.8,670.3L480.5,662.3L481.3,679.2L482.3,698.8L482.9,698.2L484,693.3L484.4,694.9L486,705.2L486.6,707.2L487.6,710.9L489.1,718.7L490.7,728.3L491,729.7L492.2,725.1L493.8,717.6L495.3,712.8L496.9,697.9L497.6,690.1L498.5,700L499.7,716.2L500.1,718.4L501.6,723.3L502.3,726.3L504.8,721.2L505,721.1L507.5,723.1L507.9,723.6L509.4,728.3L512.6,731L514.1,734.2L514.5,734.6L515.7,734.6L517.2,735.7L518.8,735.7L520.4,736.2L521.9,737.9L523.5,736.2L525.1,738.1L526.6,739L528.2,738L529.8,739.1L532.9,740L534.4,740.2L536,741.2L537.6,740.5L539.1,741.7L540.7,741.3L544,742.3L545.4,741.9L546.9,742.1L548.5,741.1L550.1,741.7L551.6,740.2L553.2,740.9L554.8,739.7L556.3,739.2L559.4,740.2L561,738.5L562.6,739.2L564.1,738.8L565.7,739.2L567.2,738.4L568.5,738.1L568.8,737.2L570.4,730.5L572,726.4L573.5,714.1L575.1,706.1L575.4,704.2L576.6,705.7L578.2,708.3L579.8,709.2L582.4,714.5L582.9,711.7L584.2,707.5L586,714.5L587.6,717.8L589.1,718.7L589.4,719.8L590.7,716.8L592.9,713.1L593.8,712.3L595.4,713.6L596.9,712.8L598,713.2L598.5,709.4L600,702L600.7,695.7L601.6,691L602.4,683.5L603.2,683.2L604.8,688.5L606.3,682.6L606.8,683.6L607.9,676.2L609.4,664.4L610.3,650.6L611,650.3L612.6,659.2L612.9,659.3L614.1,646.9L615.7,633.3L617,618L617.2,616.6L617.8,614.1L618.8,648L619,653.9L620,692.5L620.4,693.3L620.7,692.9L621.6,688.9L621.9,685.5L623.5,673.9L624.4,668.4L625.1,673.5L626.5,679.6L628.2,689.5L629.9,701.8L631.3,693.8L632.5,686.6L634.4,699.2L635.3,706L636,699.8L637.6,679.3L639.1,665.3L639.7,661.1L640.7,674.9L641.6,682.8L641.9,685.8L642.2,680.5L643.8,663.2L645.2,639.8L645.4,637.4L646.8,622.4L646.9,621.2L648.5,610.1L650,600.1L650.1,599.2L651,587.2L651.6,584.4L652,580.5L653.2,562.7L654,556.2L654.8,550.7L655.2,547.3L656.3,539.2L657,539.5L657.9,542.7L659.4,539.5L659.5,539L661,543.2L662,549.5L662.7,556.9L663.8,570.5L664.1,584.2L664.8,615.4L665,624.1L665.7,629.5L667,636.3L667.2,636L668,638.8L668.8,640.6L670.4,642L671.9,641.9L672,642.2L672.5,644.7L673.5,657.7L674.7,669.6L675.8,678L676.6,674.9L678,664.2L678.2,662.9L679,663.5L679.8,669.2L681.3,667.5L682.9,676.6L683.5,679.5L684.4,682.4L685.7,689L686,687.5L687.6,676.1L689.1,668.6L690.7,654L691,652L692.2,647.7L693.4,638L693.8,640.4L695.4,659.8L696.9,674.3L697.7,684.1L698.5,680.3L698.8,679.1L700.1,672.3L701.6,655.4L702,654L703.2,660.1L704.8,662.6L706.3,656.5L706.5,657.6L707.9,673.9L709.4,680.1L711,693.8L712.6,704.5L713,706.8L714.1,698.9L715.7,693.9L717.4,686.9L718.5,684.6L718.8,683.6L720.4,681.9L721.8,677.8L723,675.8L723.5,672.7L725,666.3L725.1,665.2L726.6,647.3L727.3,641.3L728.2,646.1L729,646.7L729.5,646.5L729.8,646L731.3,645.6L732.9,638.9L733.9,641.2L734.4,645.2L736,649.4L737.6,655.7L739.1,662.2L739.3,663.5L740.7,669.8L742.2,675.7L743,674.7L743.7,674.2L743.8,673.4L745.4,671.9L746.9,668.8L748,663.9L748.5,661.3L749,655.9L750,646.7L750.1,646.2L750.3,598.7L750.6,546.8L751,528.3L751.6,502.8L752,484.6L753.2,472.9L753.5,467.7L754.8,476L755.3,483.5L756,493.5L756.2,494.8L756.3,495.7L757.1,497.8L757.9,484.5L758.5,470.3L758.9,463.3L759.4,462.9L760.5,486.6L761,518.7L761.4,536.4L761.7,552.6L762,560.4L762.5,574.4L762.6,576.1L763,584.5L764,590.7L764.1,591.5L764.5,593.4L765.7,601L767,610.3L767.2,613.1L767.4,616.2L768,624.2L768.8,617L769.2,613L769.8,612.7L770,614.9L770.3,619.6L770.4,622.5L771,638.5L771.5,652.3L772.3,672.7L773,682.3L773.5,686.1L774.5,691.3L775,693.6L776.6,685.6L778.2,676.2L778.4,675.8L779.8,684.2L781.3,688.6L781.6,690.1L782.9,679.2L783,678.1L784.2,662.3L784.5,657L785.2,641.2L786,622.7L786.5,616.1L787.6,637.3L788,640.9L789,652.5L789.4,654.5L790.3,662.1L790.9,665.2L792.2,668L792.6,670L793.8,688.5L795.4,704.6L796,712.6L796.9,716.2L798.5,720.1L799,722.5L800.1,723.3L804.8,729.4L808,732.4L812.6,735.5L814.1,735.8L815.6,737.3L818.8,734.3L819,733.9L820.4,733.7L821,734.1L821.9,732.8L823.5,728.5L825.1,725.6L825.5,725.2L826.6,730.5L827.7,734.2L828.2,734.8L829.9,733.7L831.3,733.3L834,734.3L834.4,733.8L836,732.8L837.6,730.6L839.1,732.4L840.7,733.9L842.2,732L843.8,735.6L845.4,735.1L847.4,738.4L848.5,739.6L850.1,734.2L851.6,726.2L852,723.7L853.2,723.5L854,725.9L854.8,727.9L856.3,730.4L857.3,730.2L857.9,729.2L859.4,729.5L859.5,729.4L860.5,731.2L861,731.5L861.6,732.6L862.6,732.1L864.1,727.8L865,727.6L865.7,728.2L867.2,731.3L868.8,733.5L870.4,733.3L871.5,736.2L871.9,736.2L873.5,734.3L875.1,731.2L876,730.5L876.6,731L878.2,729.8L879.8,730.3L881.3,729.9L882.5,730.7L882.9,730.5L884.4,726.5L886,728.8L887.6,725.8L888.6,725.2L889.1,726.9L890,728L890.7,728.5L892.2,732L893.5,735.3L893.8,735.5L895.4,733.5L896.9,730.9L898.5,726.9L898.7,726.8L900.1,727.8L902,725.6L903.2,727L904.8,730.8L905.7,730.3L906.3,729.6L907.9,725.2L909.4,724.6L909.6,724.6L910.9,718L911,718.1L912.7,726.2L913.5,728.3L916,731.6L917,732.4L917.2,732.3L918.8,730.5L920.4,729.1L921.3,729L921.9,730.8L923.5,732.1L925,734.1L925.7,733.9L926.6,731.6L927.6,727.1L928.2,723.4L929.2,713.6L929.8,706.1L931,697.4L931.2,696.7L932.9,713.7L934.4,725.7L935.3,731.4L935.7,733L936,733.5L937,734.4L937.9,734.3L939.1,732.9L940.7,734.1L942,731.4L943.8,729.5L944.9,729.1L945.4,730.6L946.9,734.2L947.5,736L948.5,734.4L950.1,732.8L951,731.7L951.6,731.7L953.2,733.7L954.8,734.5L956.3,735.7L957.9,736.1L958.8,737.3L960,736.4L961,735.2L962.3,734.6L962.6,734.2L964.1,733.3L965,731.9L965.7,731.2L965.8,730.9L967.2,732.9L968.8,736.8L970,739.1L970.4,738.9L971.9,737L973.5,737.2L975.3,734.1L976.6,734.6L979.7,739.8L980.6,737.8L982.9,733.7L983,733.3L984.4,734.8L985.8,738.1L986,738.3L987.6,736.5L989.1,737.7L991.9,740.8L992.2,740.5L993.8,737.2L997,734.1L998.5,736L1001.6,739.1L1003.2,739.1L1004.8,738.2L1007.9,737.3L1009.3,735.7L1011,735.6L1012,737L1012.6,736.9L1014.1,734.9L1015.7,735.7L1017.2,736.3L1018.8,736.4L1018.9,736.6L1020.6,736.9L1021.9,738.2L1023.5,740.9L1024,741.2L1025.1,739.8L1026.6,737.1L1027.6,735.5L1028.2,734.8L1029.3,733.1L1029.8,732.5L1031.3,732.5L1032,731.6L1032.9,733.4L1034,737.6L1034.5,738.9L1036,736.4L1037.6,735.9L1038,735.2L1039.1,734.4L1040.7,736.1L1042.4,737L1043.8,737.5L1045.4,740.2L1045.9,740.3L1046.9,738L1048.5,736.4L1050.1,737.2L1051.6,737.1L1053.2,738.8L1054.8,738.8L1056.3,741L1057,741.7L1057.9,741.1L1059.4,739L1061,738.8L1062.6,736.6L1064,735.3L1067.2,739.9L1067.6,740.1L1068.8,739.4L1070.4,738.9L1071.9,736.2L1072.5,736.2L1073.5,737.7L1076.6,739.8L1078.2,740.6L1079,741.5L1082.9,739.8L1084.4,738.8L1085,738.9L1086,740.2L1087.6,741.1L1089.1,741.6L1089.4,742L1090.7,741.1L1092.2,741.2L1093.8,739.2L1094.6,738.8L1095.4,739.5L1097.2,739.9L1098.5,740.7L1100.1,741L1101.6,742.3L1103.2,741.3L1104.2,740.2L1104.8,739.1L1105,739L1106.3,740.8L1109.4,743.2L1111.2,744L1112.6,742.5L1114.1,742.2L1115.7,740.7L1117.3,739.6L1118,741L1119,742.5L1120.4,741L1121,740.6L1121.9,740.5L1123.5,739.4L1124.2,738.6L1126.6,740.4L1128.2,741.9L1128.6,742.1L1129.8,742.1L1131.3,743.5L1133.8,745.1L1134.4,744.9L1136,743.3L1139.1,743.8L1140.7,744.5L1142.2,745.5L1144,745.9L1145.4,744.9L1149,743.6L1151.6,744.9L1154.8,745.5L1156.3,745.1L1157.9,745.8L1159.4,745.5L1161,746.3L1164.1,746L1165.7,746.3L1167.2,746.1L1168.8,746.2L1170.4,746L1173.5,746L1175.1,746.3L1176.6,745.8L1182.9,746L1188,746.2L1190.7,745.8L1192.4,746L1193.8,746L1198.5,746.9L1206.3,746.9L1207.9,746.7L1211,746.8L1212.6,746.6L1214.1,746.9L1215.7,746.7L1219,747.2L1221.9,747.1L1223.5,746.8L1226.6,747L1228.2,747.4L1229.8,747.3L1232,747.4L1234.4,746.9L1245.4,746.9L1246.9,747L1250.1,746.8L1257.9,746.9L1259.6,747.1L1261,746.7L1262.6,747L1268.8,747L1270.5,747.1L1275.1,746.7L1276.6,747.1L1282.9,747.2L1284.4,747.4L1288.3,747L1295.4,746.7L1296.9,746.2L1298.5,746.4L1301.6,745.6L1303.2,746L1306.3,746.2L1307.9,745.5L1309.4,745.5L1315,744L1316.5,744.3L1317.2,744.8L1318.8,744.5L1320.4,745.3L1322,745.1L1323.5,744.6L1326.6,744.9L1328.2,744.4L1329.8,744.1L1331.3,744.3L1332.9,743.4L1334.4,744.3L1336,743.9L1339.1,744.5L1342.2,745.6L1343.8,745.7L1345.4,746.5L1346.9,746.2L1351.6,746.9L1354.8,746.7L1356.3,747L1359.4,746.7L1361.5,747L1364.1,747L1365.7,746.7L1370.4,746.8L1371.9,747.1L1378.2,747.1L1379.8,746.9L1382.9,747.2L1386,747.2L1387.6,747L1395.4,747.5L1396.9,747.2L1409.4,747.3L1411,747.1L1414.1,747.5L1418.8,747.3L1420.8,747.1L1426.7,747.5L1430.7,747.3L1430.7,750.4Z"/><path fill="#A6A6A6" d="M161,750.4L161,750.4L180,750L187.6,748.2L190.7,747.8L192.2,747.9L193.8,747.6L196.9,747.4L200.5,746.9L201.6,745.4L203.4,743.4L204.8,745.2L206.3,746.9L207.9,747.3L215.7,747.6L217.2,747.9L218.8,747.7L220.4,748.1L226.6,748.1L228.2,748.4L232,748.4L234.4,749.1L236,749.3L243.8,749.4L247,749.3L248.5,748.4L250.1,746.9L253.2,744.6L256.3,742.7L257.9,741.3L259.4,738.9L261,738.5L262.6,736.3L264.1,733.4L264.5,733.3L265.7,731.1L267.2,728.9L268.8,724.1L269,724L270.4,704.2L271.5,689.6L271.9,679.4L273.6,642.6L274.3,562.6L275,515.5L275.2,499.6L276.1,562.6L276.6,611.1L276.9,642.6L278.2,671.6L278.4,675.6L279.8,668.6L281.3,696.8L282,707.1L282.9,715.8L284.5,726.8L286,712.8L287.2,702.6L287.6,698.1L288,693.1L289.1,708.6L289.7,717.5L290.7,711.6L292.2,705.2L293.7,697.6L294,698.3L295.4,705.3L295.8,706.6L296.9,706.7L298.5,701L299.3,701.6L300.1,702.6L301.6,707.1L303.2,712.8L304.5,719.1L304.8,718.4L306.3,717.9L307.9,718.7L308,718.5L309.8,714.1L311,719.6L311.5,722.1L313.3,719.1L314.1,723.1L315.7,727.2L316.7,732L317.2,732.2L318.8,734.8L320.4,734.3L321.9,736.3L323.5,736.6L323.7,736.8L325.1,736.7L327,737.7L328.2,733.4L329.8,726L330.7,723.1L331.3,724.1L332.9,724.8L334,724L334.4,724.8L336,730.5L337.6,733.3L339.1,728.1L340.2,726.3L340.7,727.3L342.9,734.2L343.8,732L345.4,728.4L346.9,722.6L347.2,722.1L348.5,719.4L350.1,720.3L352.4,714.1L353.2,714.2L354.8,716L356.3,721.1L357.7,722.1L357.9,721L359.4,711.7L360.3,707.4L361,704.6L362,700.1L362.6,700.9L364.1,704.7L365.5,707.1L365.7,707.6L367.2,709L368.8,717.9L370.7,719.1L371.9,714.8L373.3,714.1L373.5,714.6L374.2,715.7L375.1,715.9L376.6,717.3L377.7,719.1L378.2,718.1L379.8,712L381.3,713.3L382.9,703.6L384.4,699.9L386,697.7L386.4,697.6L387.6,703L389.1,704.7L390.7,710.4L391.6,714.1L392.2,713.1L394.2,707.1L395,709.9L395.4,711.1L396.9,717.5L398.5,696.3L400.1,679.3L401.2,665.3L401.6,670.1L403.2,686.7L404.7,707.1L406.4,710.6L407.9,701.6L409.4,694.9L410,699.3L411,702.4L412.6,717.8L413.5,723.9L414.3,728.6L415.7,717.4L417.3,699.3L417.8,701.5L418.8,703.7L420.5,710.6L421.9,714L424,720.7L425.7,727.1L426.6,725.2L428.2,719.6L429.8,714.7L431.3,711.3L431.8,710.6L432.6,714.3L432.9,716.2L434.4,716.9L436.1,724L437.6,715.9L437.9,714.1L439.1,716L440.7,720.2L442.2,721.6L444,727.1L444.8,727.1L445.4,727.7L446.9,727L448.5,725.3L450.1,726.3L451.8,724.7L453.2,722.2L454.8,722.3L456.3,718.3L457.9,713.6L459.4,711L460.5,711.4L462.6,715.4L464.1,719.8L465.7,722.1L467.2,718.1L468.8,716.7L470.4,714.8L471.8,708.6L471.9,709L473.5,710.9L474.4,714.9L475.1,717.2L476.2,719.1L476.6,713.6L478.2,695L479.8,671.6L480.5,663.6L481.3,680.5L482.3,700.1L482.9,699.5L484,694.6L484.4,696.2L486,706.5L486.6,708.5L487.6,712.2L489.1,719.9L490.7,729.1L491,730.4L492.2,726L493.8,718.8L495.3,714.1L496.9,699.2L497.6,691.4L498.5,701.3L499.7,717.5L500.1,719.5L501.6,724.2L502.3,727.1L504.8,722.2L505,722.1L507.5,724.1L507.9,724.5L509.4,729.1L512.6,731.7L514.1,734.8L514.5,735.1L515.7,735.1L517.2,736.2L518.8,736.2L520.4,736.8L521.9,738.3L523.5,736.7L525.1,738.6L526.6,739.4L528.2,738.5L529.8,739.5L532.9,740.3L534.4,740.5L536,741.6L537.6,740.9L539.1,742L540.7,741.6L544,742.6L545.4,742.2L546.9,742.4L548.5,741.4L550.1,742L551.6,740.5L553.2,741.3L554.8,740.1L556.3,739.6L559.4,740.6L561,738.9L562.6,739.6L564.1,739.2L565.7,739.6L567.2,738.8L568.5,738.5L568.8,737.6L570.4,731.2L572,727.1L573.5,715.2L575.1,707.2L575.4,705.3L576.6,706.8L578.2,709.4L579.8,710.3L582.4,715.6L582.9,712.8L584.2,708.6L586,715.5L587.6,718.8L589.1,719.6L589.4,720.6L590.7,717.7L592.9,714.1L593.8,713.3L595.4,714.5L596.9,713.8L598,714.1L598.5,710.3L600,702.9L600.7,696.6L601.6,691.9L602.4,684.4L603.2,684.1L604.8,689.3L606.3,683.4L606.8,684.4L607.9,677L609.4,665.3L610.3,651.4L611,651.1L612.6,660L612.9,660.1L614.1,647.7L615.7,634.1L617,618.7L617.2,617.3L617.8,614.8L618.8,648.7L619,654.6L620,701.1L620.4,699.9L620.7,697.3L621.6,688.9L621.9,685.5L623.5,674.4L624.4,669.5L625.1,674.9L628.2,691L629.9,702.4L631.3,693.8L632.5,687L634.4,700.1L635.3,707.1L636,701.2L637.6,680.9L639.1,665.9L639.7,661.8L640.7,676.3L641.6,683.8L641.9,686.6L642.2,681.2L643.8,664.6L645.2,641L646.9,621.2L648.5,610.8L650,602.5L650.1,601.7L651,590.2L651.6,586.2L652,581.3L653.2,563.6L654,557.7L654.8,553.3L656.3,543.3L657,544.8L657.9,549.7L659.4,547L659.5,546.7L661,549.3L662,554.5L662.7,561.7L663.8,573.9L664.1,587.9L665,629L665.7,634.4L667,640.5L667.2,640.1L668,642.9L668.8,645.3L670.4,646.5L671.9,645.6L672,645.9L672.5,648L673.5,660.5L674.7,672.5L675.1,676L675.8,681.8L676.6,678.7L678.2,665.8L679,666.2L679.8,672.3L681.3,670L682.9,679L683.5,681.8L684.4,685.4L685.7,692.7L686,691.3L687.6,679.1L689.1,671.7L690.7,656.5L691,654.6L692.2,651.1L693.4,641.3L693.8,643.8L695.4,663.6L696.9,678L697.7,688L698.5,683.8L700.1,675.8L701.6,658.5L702,657L703.2,663.5L704.8,666.1L706.3,659.9L706.5,661L707.9,676.9L709.4,683L711,696.2L712.6,706.7L713,708.8L714.1,701.5L715.7,697.8L717.4,689.8L718.5,687.1L718.8,686.2L720.4,684.3L721.9,680.4L723,678.1L723.5,674.9L725,667L726.6,651.2L727.3,646.8L728.2,650.8L729,650.7L729.5,650.4L729.8,649.6L731.3,649.1L732.9,643L733.9,645.4L734.4,649.6L736,653.4L737.6,659.2L739.1,666.5L739.3,667.8L740.7,674.2L742.2,680L743,678.9L743.7,678.6L743.8,677.8L745.4,676.2L746.9,672.9L748,667.3L748.5,664.4L749,659.1L750,649.4L750.1,648.8L750.3,606.7L750.6,553.7L751,536.2L751.6,511.2L752,493.7L753.2,484.7L753.5,479.9L754.8,485.9L755.3,492.7L756,501.6L756.3,503L757.1,502.9L757.9,494.1L758.5,481.8L758.9,476.4L759.4,474.6L760.5,497.3L761,530.4L761.4,548.3L761.7,563.5L762,570L762.5,581.5L762.6,583.3L763,592.5L764.1,600L764.5,601.8L765.7,609.2L767,618.8L767.2,620.9L767.4,623.5L768,629.6L768.8,628.7L769.2,627.6L769.8,628.8L770,630.3L770.3,634.6L771.5,659.3L771.9,667.1L772.3,675.2L773,685.4L773.5,689.4L775,697.5L776.6,689.8L778.2,680.8L778.4,680.5L779.8,688.5L781.3,692.4L781.6,693.9L782.9,682L783,680.9L784.2,665.6L784.5,660.9L785.2,646.5L786,629.5L786.5,624.1L787.6,644.8L788,648.3L789,658.5L789.4,660.1L790.3,665.4L790.9,668L792.2,672.3L792.6,675L793.8,692.4L795.4,707.3L796,714.9L796.9,718.5L798.5,722.4L799,724.7L800.1,725.3L804.8,730.7L808,733.2L812.6,736L814.1,736.2L815.6,737.7L818.8,734.8L819,734.5L820.4,734.3L821,734.7L821.9,733.5L823.5,729.3L825.1,726.7L825.5,726.3L826.6,731.3L827.7,734.9L828.2,735.4L829.9,734.3L831.3,733.9L834,734.8L834.4,734.4L836,733.5L837.6,731.3L839.1,733.2L840.7,734.5L842.2,732.7L843.8,736.1L845.4,735.7L847.4,738.9L848.5,740L850.1,734.9L851.6,727.3L852,724.9L853.2,724.7L854,726.9L854.8,728.8L856.3,731.3L857.3,731.1L857.9,730L859.4,730.4L859.5,730.3L860.5,731.9L861,732.1L861.6,733.3L862.6,732.8L864.1,728.7L865,728.4L865.7,729L867.2,732.2L868.8,734.1L870.4,733.9L871.5,736.7L871.9,736.7L873.5,734.9L875.1,731.9L876,731.3L876.6,731.8L878.2,730.7L879.8,731.2L881.3,730.8L882.5,731.5L882.9,731.4L884.4,727.4L886,729.6L887.6,726.7L888.6,726.1L889.1,727.8L890,728.8L890.7,729.4L892.2,732.7L893.5,735.7L893.8,735.9L895.4,734.1L896.9,731.6L898.5,727.7L898.7,727.6L900.1,728.5L902,726.5L903.2,727.8L904.8,731.5L905.7,731L906.3,730.3L907.9,726L909.6,725.6L910.9,719.7L911,719.9L912.7,727L913.5,729L916,732.1L917,732.9L917.2,732.9L918.8,731.2L920.4,729.8L921.3,729.7L921.9,731.4L923.5,732.7L925,734.6L925.7,734.4L926.6,732.1L927.6,727.9L928.2,724.4L929.2,715.1L929.8,707.9L931,699.8L931.2,698.8L932.9,715L934.4,726.5L935.3,732.1L935.7,733.6L936,734.1L937,734.9L937.9,734.9L939.1,733.5L940.7,734.6L942,732.1L943.8,730.3L944.9,729.9L945.4,731.3L946.9,734.8L947.5,736.5L948.5,735L950.1,733.5L951,732.4L951.6,732.4L953.2,734.3L954.8,735L956.3,736.1L957.9,736.5L958.8,737.6L960,736.7L961,735.7L962.3,735.2L962.6,734.9L964.1,733.9L965,732.6L965.7,732L965.8,731.7L967.2,733.5L968.8,737.2L970,739.4L970.4,739.2L971.9,737.5L973.5,737.7L975.3,734.8L976.6,735.2L979.7,740.2L980.6,738.3L982.9,734.5L983,734.2L984.4,735.4L985.8,738.6L986,738.8L987.6,737.1L989.1,738.1L991.9,741.1L992.2,740.9L993.8,737.7L995.4,736.6L997,735L998.5,736.8L1001.6,739.6L1003.2,739.4L1004.8,738.7L1007.9,738.1L1009.3,736.6L1011,736.6L1012,737.7L1012.6,737.7L1014.1,735.8L1015.7,736.7L1017.2,737.2L1018.8,737.3L1020.6,737.8L1021.9,738.9L1023.5,741.2L1024,741.6L1025.1,740.3L1027.6,736.3L1029.3,734.2L1029.8,733.8L1031.3,733.8L1032,733L1032.9,734.5L1034,738.2L1034.5,739.3L1036,737.1L1037.6,737L1038,736.4L1039.1,735.6L1040.7,737.2L1042.4,737.9L1043.8,738.2L1045.4,740.7L1045.9,740.8L1046.9,738.8L1048.5,737.6L1050.1,738.3L1051.6,738.2L1053.2,739.5L1054.8,739.4L1056.3,741.4L1057,742L1057.9,741.5L1059.4,739.8L1061,739.7L1062.6,737.7L1064.1,736.9L1067.2,740.6L1067.6,740.8L1068.8,740.2L1070.4,739.9L1071.9,737.5L1072.5,737.6L1073.5,738.8L1076.6,740.6L1078.2,741.3L1079,742L1079.8,741.5L1082.9,740.7L1084.4,740L1085,740L1086,741.1L1087.6,741.7L1089.1,742.1L1089.4,742.5L1090.7,741.9L1092.2,741.9L1093.8,740.3L1094.6,740L1095.4,740.7L1097.2,740.8L1098.5,741.5L1100.1,741.7L1101.6,742.9L1103.2,742.1L1104.2,741.1L1104.8,740.3L1105,740.2L1106.3,741.9L1109.4,743.7L1111.2,744.4L1112.6,743.1L1114.1,742.8L1117.3,740.9L1119,743.2L1120.4,742L1121.9,741.7L1124.2,740.6L1125.1,741.1L1126.6,741.5L1128.2,742.9L1129.8,742.9L1131.3,744.2L1133.8,745.4L1134.4,745.3L1136,743.8L1137.6,744.3L1139.1,744.3L1140.7,744.9L1142.2,745.9L1144,746.3L1145.4,745.5L1146.9,745L1149,744.6L1151.6,745.7L1154.8,745.9L1156.3,745.5L1157.9,746.2L1159.4,745.8L1161,746.5L1164.1,746.3L1165.7,746.5L1167.2,746.3L1168.8,746.5L1170.4,746.3L1173.5,746.3L1175.1,746.6L1176.6,746.2L1188,746.9L1190.7,746.6L1192.4,746.7L1193.8,746.6L1198.5,747.2L1206.3,747.2L1207.9,747L1211,747.2L1212.6,746.9L1214.1,747.2L1215.7,746.9L1221.9,747.2L1223.5,746.9L1226.6,747.1L1228.2,747.4L1229.8,747.3L1232,747.4L1234.4,747L1240.7,747.3L1245.4,747.1L1246.9,747.2L1250.1,746.9L1253.2,747.2L1257.9,747.1L1259.6,747.3L1261,746.9L1262.6,747.2L1268.8,747.1L1270.5,747.3L1275.1,746.8L1276.6,747.2L1282.9,747.3L1284.4,747.5L1295.4,747L1296.9,746.5L1298.5,746.7L1301.6,745.9L1303.2,746.3L1306.3,746.4L1307.9,745.7L1309.4,745.8L1315,744.6L1316.5,744.7L1317.2,745.1L1318.8,744.8L1320.4,745.5L1322,745.3L1323.5,744.8L1326.6,745.3L1329.8,744.6L1331.3,744.8L1332.9,743.8L1334.4,744.7L1336,744.3L1339.1,744.8L1342.2,745.8L1343.8,745.9L1345.4,746.7L1346.9,746.4L1351.6,747.1L1354.8,746.9L1356.3,747.1L1359.4,747L1364.1,747.3L1365.7,747L1370.4,747L1371.9,747.3L1381.3,747.2L1386,747.4L1387.6,747.2L1393.8,747.4L1395.4,747.7L1396.9,747.4L1409.4,747.4L1411,747.2L1414.1,747.6L1418.8,747.5L1420.8,747.3L1423.5,747.5L1430.7,747.4L1430.7,750.4Z"/><path fill="#FB7268" d="M161,750.4L161,750.4L180,750.2L186,749.2L187.6,749.1L189.1,748.8L193.8,748.4L195.4,748.6L198.5,748L200.5,748.1L201.6,747.2L203.5,746.3L204.8,746.8L206.3,748.2L214.1,748.3L215.7,748.6L218.8,748.4L220.4,748.7L226.6,748.9L228.2,749.1L232.9,749.2L245.4,749.6L247,749.5L250.1,748.2L254.8,745.9L256.3,745.4L257.9,743.9L259.4,743L261,743.4L262.6,741.7L264.1,742.1L264.5,741.5L265.7,738.7L267.2,737.8L269,735.9L270.4,733.4L271.5,732.1L271.9,731.2L273.5,726.9L274.3,725.3L275,724.2L275.1,724.3L275.2,724.2L276.1,724.5L276.6,725L276.9,726.3L278.2,730.6L279.8,734L281.3,735.6L282,737L282.9,737.2L284.5,739.6L286,740.1L287.2,739.5L287.6,738.8L289.1,737.6L289.7,736.8L290.7,735.1L292.2,733L294,731.4L295.4,733.1L296.9,736.2L298.5,736.8L299.3,737.4L300.1,737.5L301.6,738.8L303.2,738.9L304.8,737.7L306.3,738.7L309.4,739.1L311,740.8L312.6,740.5L314.1,741.8L315.7,742.8L317.2,742.8L318.8,743.9L321.9,743.2L323.5,744.4L325.1,743.8L327,744.4L328.2,743.4L329.8,743.2L330.7,742L331.3,741.7L332.9,741.5L334.4,742.3L339.1,743L340.7,742.8L342.2,743.1L342.9,743.7L343.8,743.9L345.4,741.7L346.9,740.6L348.5,740.7L350.1,740.1L351.6,737.3L353.2,738.1L354.8,737.6L356.3,737.8L357.9,737.3L360.3,737.7L364.1,736.1L365.5,734.4L367.2,733.5L368.8,735.7L371.9,738L373.5,738.6L374.2,738.3L375.1,737.2L376.6,736.7L378.2,736.6L379.8,736L381.3,736.3L382.9,735.5L384.4,732.2L386,734.5L386.4,734.2L387.6,734.5L389.1,734.3L392.2,736.7L393.8,738.1L395,738.2L395.4,737.3L396.9,733.2L398.5,731.7L400.1,729.8L401.2,728L401.6,728.7L403.2,727.8L404.8,732.9L406.4,735.5L407.3,736.1L407.9,735.4L409.4,735.7L410,734.9L411,735.4L413.5,740.1L414.1,739L415.7,733.6L417.3,731.8L417.8,730.3L418.8,731L420.5,732.5L421.9,734.8L423.5,739.4L424,739.6L425.1,738.2L426.6,738.4L428.2,739.4L429.8,738.9L432.9,736.8L434.4,738.8L436.1,737.3L437.6,737.2L439.1,738.9L440.7,738.8L442.2,739.5L445.4,739.8L446.9,738.6L448.5,738.6L450.1,739.4L451.6,738L453.2,738.5L456.3,737.6L457.9,739.1L459.4,737.1L461,737.3L462.6,736.4L467.2,735.5L468.8,734.8L471.9,735.1L473.5,733.9L474.4,733.9L475.1,733.4L476.6,730.5L478.2,729.3L479.8,730L480.5,728.9L481.3,729.9L482.9,730.2L484.4,733.5L486,735.5L486.6,737.4L487.6,738.9L489.1,739L491,739.5L492.2,739.6L493.6,739.2L495.4,736.9L497,735.4L500.1,737.5L501.6,737.1L503.2,739.8L504.8,739L506.3,739.9L507.9,740.1L509.4,740.7L511,740.8L514.1,742L517.2,742.1L518.8,741.9L520.4,742.9L521.9,742.5L525.1,743.3L526.6,742.7L528.2,743.2L529.8,743.1L531.3,744L532.9,744L536,743.3L539.1,743.7L540.7,744.6L542.2,743.6L545.4,744.7L546.9,744.1L548.5,744.8L550.1,744.8L551.6,744.6L553.2,744.7L554.8,744L556.3,744.2L558,743.7L559.4,743.6L561,744.1L562.6,743.4L564.1,742.4L566.7,743.1L567.2,743.1L570.4,740.3L573.5,739.5L575.1,737L575.4,736.9L576.6,737.2L578.2,738.1L579.8,737.5L581.3,738.1L582.9,737.8L584.4,738.5L586,738.7L587.6,738.2L589.4,738.2L592.2,736.9L592.9,737.6L593.8,738L595.4,737.5L596.9,735.1L598.5,733.9L600.1,731.7L601.6,732.5L603.2,732.8L604.8,729.8L606.3,727.7L607.9,726L610.3,726.2L611,726.5L612.6,725.7L614.1,723.2L615.7,721.1L617,721.5L617.8,724.5L618.8,728.5L620.4,732.7L620.7,733.4L623.5,730.9L625.1,731L626,729.5L626.6,729.3L628.2,732.7L631,733L631.3,732.6L635.3,732.2L636,732L637.6,729.5L639.1,729.3L640.7,731.1L641.6,728.8L642.2,725.7L643.8,720.9L645.4,718L646.9,717.7L648.5,713.7L650,710.7L650.1,710.4L651.6,701.9L653.2,696L654.8,691.6L655.2,692.2L656.3,694.4L657.9,685.3L659.4,680.2L659.5,681L661,696.8L662,698.1L662.6,699.1L664.1,707.3L665,713.1L665.7,717.3L666,718.3L667.2,717.3L668.8,717L670.4,718.1L671.5,714.9L671.9,714.7L672,714.9L673.5,719.8L674.7,722L675.1,722.1L676.6,726.4L678.2,725.4L679.8,727.6L681.3,729.8L682.9,728.2L683.5,729L684.4,728.5L686,729.4L687.6,728L689.1,725L690.7,725.5L692.2,720.7L693.4,718.9L693.8,719.2L695.4,723.8L696.9,722.5L698.5,727.3L698.8,727.7L700.1,727.1L701.6,721.7L703.2,724.6L704.8,725.9L706.3,724.5L707.9,726.7L709.4,727.8L711,730.3L712,730.6L712.6,730L714.1,729.3L715.7,729.9L717.4,729.7L718.5,729.9L718.8,729.7L720.4,727.1L723.5,725L725.1,721.4L726.6,719.7L727.3,719.7L728.2,720.5L729.5,722.9L729.8,723.3L731.3,721L732.9,716.9L733.9,718.2L734.4,719.6L736,721.4L737.6,722.7L739.1,724.3L739.3,724.7L740.7,725.5L742.2,725.9L743.8,724.2L745.4,723.5L746.9,726.5L748.5,724.4L749,724.4L750.1,693.4L750.3,686L751,665.1L751.6,659.6L752,658.7L753.2,658.2L753.3,656.8L753.5,659L754.8,677.7L755.3,689.1L756.3,688.2L757.1,686L757.9,681.7L758.6,675.6L758.9,676.1L759.4,678.1L760.5,687.3L761,691.3L761.4,694.7L762,700.3L762.5,702.8L762.6,703L764.1,701.7L765.7,711L767,712.2L768,714.2L768.5,713.9L768.8,714L769.2,714.7L769.8,716.4L770.3,718.4L771.9,725.9L772.3,726.8L773,727.7L773.5,727.3L775.1,728.8L776.6,728L778.2,732L779.8,731.3L781.6,732.9L783,729.3L784.4,726.3L786,719.7L786.5,721.6L787.6,726.7L788,727.6L789.1,730.9L789.3,731.8L790.7,731.2L792.2,729.2L792.6,727.5L793.8,727.3L795.4,730L796,731.9L796.9,734.1L798.5,737.4L799,737.8L800.1,737.9L806.3,739.8L809.4,741.3L811,741.5L812.6,742.1L814.1,742.1L817.2,743.1L819,742.5L820.4,742.4L821.9,742.9L823.5,741.9L825.5,741.5L826.6,741.9L828.2,743.1L831.3,742.6L834.4,743.4L836,742.8L839.1,743.4L840.7,743L843.8,743.9L845.4,743.9L848.5,744.8L850.1,744.4L851.6,743L852,742.8L853.2,742.9L854.8,743.9L856.3,743.6L857.9,743.7L861,743.4L862.7,743.5L864.1,743.3L865.7,743.7L870.4,743.8L871.9,744.2L873.5,743.7L879.8,743.2L881.3,743.4L882.9,742.8L886,743.2L887.6,743L889.1,742.2L890.7,742L892.2,742.5L893.8,743.3L895.4,743.2L898.5,741.5L900.4,742L903.2,741.6L904.8,742.2L909.8,740.1L911,739.9L912.6,741.5L914.1,740.7L915.7,741.2L917.2,742.4L918.8,741.4L920.4,742.2L923.5,742.7L925,742.5L926.6,740.5L927.6,738.1L928.2,736.4L929.8,732.9L931,728.7L931.2,728.9L931.3,729.1L932.9,736.2L935.3,743L936,743.4L939.1,743L940.7,743.6L943.8,742.6L945.4,743.5L947.5,743.7L948.5,743.1L950.1,743.7L951.6,743.1L954.8,743.7L956.3,743.5L957.9,743.7L959.4,744.1L961,743.6L962.6,743.9L964.1,743.4L967.2,743.6L968.8,744.4L971.9,744.1L973.5,744.7L975.3,743.7L979.8,744.9L981.3,744.5L983,743.6L986,744.8L987.6,744.5L989.1,744.6L990.7,744.4L992.2,745L993.8,743.8L995.4,743.9L997,743.1L998.5,744L1001.6,744.6L1003.2,744L1009.4,744.1L1011,743.3L1012.6,743.6L1014.1,743.4L1015.7,743.8L1017.2,743.1L1018.9,743.6L1020.6,743.4L1021.9,743.5L1024,744.5L1025.1,744.2L1026.6,742.4L1029.3,740.9L1031.3,741.5L1032,741.3L1032.9,741.5L1034,742.9L1034.5,743.3L1036,742.7L1039.1,742.6L1040.7,742.8L1042.4,743.6L1043.8,743.2L1045.4,744.2L1045.9,744.1L1046.9,743.2L1048.5,744L1050.1,743.9L1051.6,743.6L1054.8,743.9L1056.3,744.6L1057,744.7L1059.4,744.2L1061,744.6L1064.1,743.7L1067.6,744.7L1068.8,744.6L1070.4,744.9L1072,744L1076.6,744.8L1078.2,744.6L1079,744.9L1081.6,745.2L1082.9,745L1086,744.9L1087.6,745.2L1092.2,745.6L1094.6,745.1L1095.4,745.2L1097.2,744.8L1103.2,745.5L1104.8,744.8L1106.3,745.7L1107.9,745.3L1109.4,746.1L1111.2,746.2L1112.6,745.7L1114.1,745.9L1117.3,745.1L1119,746L1120.4,745.7L1123.5,745.8L1125.1,745.4L1126.6,745.4L1128.2,746.1L1129.8,745.5L1131.3,746.3L1134.4,746.7L1136,746L1137.6,746.5L1140.7,746.4L1144,747.1L1145.4,746.5L1146.9,746.7L1150.1,746.1L1151.6,746.7L1154.8,747L1156.3,746.5L1157.9,747.1L1159.4,746.8L1161,747.5L1164.1,747.2L1165.7,747.5L1167.2,747.1L1173.5,747.2L1175.1,747.4L1176.6,747.1L1180,747.4L1188,747.6L1190.7,747.4L1192.4,747.6L1193.8,747.4L1198.5,748L1200.1,747.7L1206.3,747.9L1207.9,747.7L1211,747.9L1212.6,747.6L1214.1,747.8L1217.2,747.7L1220.4,748L1223.5,747.7L1226.6,747.8L1228.2,748.1L1232,748.1L1237.6,747.7L1239.1,747.9L1245.4,747.7L1246.9,748L1251.6,747.7L1259.6,748L1261,747.7L1264.1,748L1268.8,747.9L1270.5,748.1L1275.1,747.7L1276.6,748L1278.2,747.9L1281.4,748.1L1282.9,748L1284.4,748.2L1295.4,747.8L1296.9,747.4L1298.5,747.6L1301.6,747L1303.2,747.4L1304.8,747.3L1306.3,747.5L1307.9,747L1309.4,747.2L1311,746.6L1312.6,746.6L1315,745.9L1316.5,746L1317.2,746.5L1318.8,746.4L1320.4,747L1323.5,746.4L1325.1,746.7L1328.2,746.2L1331.3,746.2L1332.9,745.6L1334.4,746.3L1336.8,746.1L1337.6,746.3L1339.1,746.3L1341,746.8L1343.8,747.2L1345.4,747.6L1348.5,747.5L1351.6,747.9L1354.8,747.7L1356.3,748L1359.4,747.7L1364.1,748L1370.4,747.9L1373.5,748L1378.2,748.1L1379.8,747.8L1381.3,748.1L1390.7,748L1393.8,748.1L1395.4,748.3L1401.6,747.9L1406.3,747.8L1407.9,748.1L1411,748L1415.7,748.4L1420.8,748L1423.5,748.3L1425.1,748.2L1426.7,748.4L1430.7,748.2L1430.7,750.4Z"/></g>
<path d="M161.6,759.4V750.4 H1431" fill="none" stroke="#dedede" stroke-width="2.1"/>
<path d="M731.8,750.4V759 M1298.4,750.4V759" stroke="#dedede" stroke-width="2.1"/>
<g font-family="'Liberation Sans', sans-serif" stroke="#fff" stroke-width="0.35" style="opacity:0.999">
<text x="89.7" y="41.7" font-size="25.4" fill="#fff" textLength="43.5" lengthAdjust="spacingAndGlyphs">$20</text>
<text x="89.7" y="221.2" font-size="25.4" fill="#fff" textLength="43.5" lengthAdjust="spacingAndGlyphs">$15</text>
<text x="89.7" y="400.7" font-size="25.4" fill="#fff" textLength="43.5" lengthAdjust="spacingAndGlyphs">$10</text>
<text x="104.7" y="580.3" font-size="25.4" fill="#fff" textLength="28.2" lengthAdjust="spacingAndGlyphs">$5</text>
<text x="104.7" y="759.0" font-size="25.4" fill="#fff" textLength="27.6" lengthAdjust="spacingAndGlyphs">$0</text>
<text x="105.0" y="797.6" font-size="25.4" fill="#fff" textLength="112.3" lengthAdjust="spacingAndGlyphs">1/5/2024</text>
<text x="673.8" y="797.6" font-size="25.4" fill="#fff" textLength="113.8" lengthAdjust="spacingAndGlyphs">1/5/2025</text>
<text x="1241.5" y="797.6" font-size="25.4" fill="#fff" textLength="114.0" lengthAdjust="spacingAndGlyphs">1/5/2026</text>
<g transform="translate(69.5,651) rotate(-90)" font-size="29.5" fill="#C68FCB" stroke="#C68FCB">
<text x="-0.5" y="0" textLength="106.8" lengthAdjust="spacingAndGlyphs">Trading</text>
<text x="110.5" y="0" textLength="132.1" lengthAdjust="spacingAndGlyphs">Platforms:</text>
<text x="252.2" y="0" textLength="121.2" lengthAdjust="spacingAndGlyphs">Revenue</text>
<text x="379.0" y="0" textLength="29.5" lengthAdjust="spacingAndGlyphs">($</text>
<text x="416.6" y="0" textLength="101.2" lengthAdjust="spacingAndGlyphs">million)</text>
</g>
<rect x="93.2" y="848" width="16.2" height="15.8" fill="#FB7268"/>
<text x="115.9" y="864.3" font-size="25.2" fill="#fff" textLength="76.8" lengthAdjust="spacingAndGlyphs">Trojan</text>
<rect x="213.3" y="848" width="16.2" height="15.8" fill="#A6A6A6"/>
<text x="236.4" y="864.3" font-size="25.2" fill="#fff" textLength="87.7" lengthAdjust="spacingAndGlyphs">Photon</text>
<rect x="344.5" y="848" width="16.2" height="15.8" fill="#4472C4"/>
<text x="367.5" y="864.3" font-size="25.2" fill="#fff" textLength="102.5" lengthAdjust="spacingAndGlyphs">Maestro</text>
<rect x="489.2" y="848" width="16.2" height="15.8" fill="url(#gm)"/>
<text x="511.7" y="864.3" font-size="25.2" fill="#fff" textLength="83.3" lengthAdjust="spacingAndGlyphs">GMGN</text>
<rect x="615.0" y="848" width="16.2" height="15.8" fill="#7DF5E0"/>
<text x="637.7" y="864.3" font-size="25.2" fill="#fff" textLength="147.1" lengthAdjust="spacingAndGlyphs">Banana Gun</text>
<rect x="805.0" y="848" width="16.2" height="15.8" fill="#9966FF"/>
<text x="828.4" y="864.3" font-size="25.2" fill="#fff" textLength="70.2" lengthAdjust="spacingAndGlyphs">Padre</text>
<rect x="918.4" y="848" width="16.2" height="15.8" fill="#BDE7F9"/>
<text x="941.9" y="864.3" font-size="25.2" fill="#fff" textLength="154.4" lengthAdjust="spacingAndGlyphs">DexScreener</text>
<rect x="1114.9" y="848" width="16.2" height="15.8" fill="#FFC000"/>
<text x="1138.4" y="864.3" font-size="25.2" fill="#fff" textLength="77.8" lengthAdjust="spacingAndGlyphs">Bloom</text>
<rect x="1236.3" y="848" width="16.2" height="15.8" fill="#70AD47"/>
<text x="1259.6" y="864.3" font-size="25.2" fill="#fff" textLength="61.0" lengthAdjust="spacingAndGlyphs">BullX</text>
<rect x="1340.0" y="848" width="16.2" height="15.8" fill="#D88CDE"/>
<text x="1362.7" y="864.3" font-size="25.2" fill="#fff" textLength="76.3" lengthAdjust="spacingAndGlyphs">Axiom</text>
</g>
<g opacity="0.74">
<path d="M1353.6,824.3 C1359.5,824 1364.6,828.2 1365.6,833.6 C1366.4,838.4 1364.6,844.6 1361.2,849.6 C1357.2,855.4 1350.6,859.2 1343.2,859.4 C1336.6,859.6 1330.2,858.2 1326.4,856 C1324,854.6 1322,853 1320.8,851.4 L1325.8,850.6 L1323.4,847.4 L1328.4,848 L1327.4,844.4 C1330.6,846.2 1333.8,845.8 1336,843.2 C1338.4,840.4 1339.4,836.4 1341.2,832.4 C1343.6,827.4 1348,824.6 1353.6,824.3Z" fill="#3FA0D4" stroke="#7CC6E6" stroke-width="0.7"/>
<path d="M1340.5,846 C1344.5,851 1351,852.5 1357.5,849" fill="none" stroke="#2F86B8" stroke-width="0.9"/>
<path d="M1362.6,830.4 L1367.6,828.4 L1365.2,832.8Z" fill="#B7E04A"/>
<path d="M1365,834.2 L1368.8,835.6 L1364.6,837.6Z" fill="#F2D24A"/>
<circle cx="1354.6" cy="834.3" r="3.1" fill="#0b0b0b"/>
<circle cx="1353.7" cy="833.3" r="0.9" fill="#fff"/>
<circle cx="1355.7" cy="835.4" r="0.6" fill="#fff"/>
<path d="M1349.6,857.6V862.4 M1345.4,863.6 Q1349.6,860.8 1353.8,863.6" fill="none" stroke="#1d1030" stroke-width="1.1"/>
</g>
<g opacity="0.86">
<circle cx="1376.3" cy="829.8" r="7.3" fill="#B86A1C"/>
<circle cx="1376.3" cy="829.8" r="6.3" fill="#EE9A3A"/>
<circle cx="1376.3" cy="829.8" r="4.9" fill="#E08A2A"/>
<path d="M1374.8,826.4H1377.2Q1378.8,826.6 1378.6,828.2Q1378.4,829.4 1377.2,829.7Q1379,830 1378.8,831.6Q1378.6,833.2 1376.6,833.2H1374.2Z M1375.6,825.4V826.4 M1377,825.4V826.4 M1375.2,833.2V834.2 M1376.6,833.2V834.2" fill="none" stroke="#F6E3C4" stroke-width="1"/>
</g>
<g fill="none" stroke="#fff" stroke-opacity="0.56" stroke-width="2.4" stroke-linecap="butt" stroke-linejoin="round">
<!-- 比 -->
<path d="M1398.4,824.4 L1393.2,848.2 M1397.2,833.3 H1403.2 M1393.6,846.4 L1400.6,843.6"/>
<path d="M1407.6,824.4 L1404.2,843.4 Q1403.8,846.6 1407,846.6 H1413.6 Q1415.6,846.6 1415.8,844.2 M1416,831.6 L1406.4,835.8"/>
<!-- 推 -->
<path d="M1423.8,829.8 H1431 M1429.6,823 L1425.2,846.4 Q1424.8,848.4 1422.2,847.6 M1423,839.8 L1430.6,837.4"/>
<path d="M1437,823.8 L1432.6,831.8 M1434.8,830.6 L1431.8,848.6 M1442.6,823 L1441.8,827 M1435.4,827.4 H1450.4 M1442.4,827.4 L1439,846.6 M1434.8,833.8 H1448.6 M1433.6,840.2 H1447.4 M1432.6,846.6 H1449.4"/>
</g>
<text x="1390.2" y="868.6" font-family="'Liberation Sans', sans-serif" font-size="16.6" fill="#fff" fill-opacity="0.55" textLength="107" lengthAdjust="spacing">bitpush.news</text>

</svg></body></html>
